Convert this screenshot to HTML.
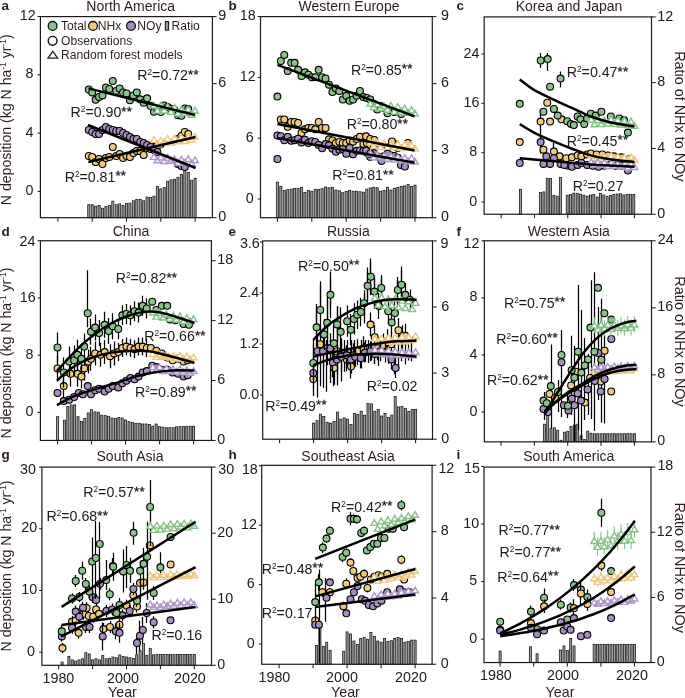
<!DOCTYPE html>
<html><head><meta charset="utf-8"><style>
html,body{margin:0;padding:0;background:#fff;}
svg{display:block;will-change:transform;font-family:"Liberation Sans",sans-serif;}
.tk{font-size:14.3px;fill:#1c1a1a;}
.ti{font-size:14.0px;fill:#2e1d1c;}
.lt{font-size:13.5px;font-weight:bold;fill:#2e1d1c;}
.r2{font-size:14.2px;fill:#1c1a1a;}
.sup{font-size:8.2px;}
.st{font-size:13.2px;stroke:#1c1a1a;stroke-width:0.3px;letter-spacing:0.3px;}
.yl{font-size:14.1px;fill:#2e1d1c;}
.yr{font-size:14.4px;fill:#2e1d1c;}
.yr2{font-size:14.3px;fill:#2e1d1c;}
.ysup{font-size:8.4px;}
.lg{font-size:12.1px;fill:#2e1d1c;}
</style></head>
<body><svg width="685" height="698" viewBox="0 0 685 698">
<clipPath id="cpa"><rect x="40.4" y="16.6" width="172.0" height="201.1"/></clipPath>
<g fill="#a2a2a2" stroke="#1a1a1a" stroke-width="0.8"><rect x="87.73" y="204.70" width="2.08" height="13.00"/><rect x="91.16" y="204.70" width="2.08" height="13.00"/><rect x="94.59" y="206.20" width="2.08" height="11.50"/><rect x="98.02" y="205.50" width="2.08" height="12.20"/><rect x="101.45" y="208.20" width="2.08" height="9.50"/><rect x="104.88" y="206.60" width="2.08" height="11.10"/><rect x="108.31" y="205.50" width="2.08" height="12.20"/><rect x="111.74" y="201.20" width="2.08" height="16.50"/><rect x="115.17" y="204.70" width="2.08" height="13.00"/><rect x="118.60" y="203.90" width="2.08" height="13.80"/><rect x="122.03" y="205.50" width="2.08" height="12.20"/><rect x="125.46" y="203.50" width="2.08" height="14.20"/><rect x="128.89" y="203.20" width="2.08" height="14.50"/><rect x="132.32" y="200.80" width="2.08" height="16.90"/><rect x="135.75" y="199.50" width="2.08" height="18.20"/><rect x="139.18" y="199.50" width="2.08" height="18.20"/><rect x="142.61" y="200.80" width="2.08" height="16.90"/><rect x="146.04" y="197.00" width="2.08" height="20.70"/><rect x="149.47" y="197.40" width="2.08" height="20.30"/><rect x="152.90" y="196.20" width="2.08" height="21.50"/><rect x="156.33" y="186.40" width="2.08" height="31.30"/><rect x="159.76" y="188.90" width="2.08" height="28.80"/><rect x="163.19" y="187.60" width="2.08" height="30.10"/><rect x="166.62" y="181.20" width="2.08" height="36.50"/><rect x="170.05" y="179.80" width="2.08" height="37.90"/><rect x="173.48" y="179.30" width="2.08" height="38.40"/><rect x="176.91" y="177.30" width="2.08" height="40.40"/><rect x="180.34" y="174.50" width="2.08" height="43.20"/><rect x="183.77" y="168.70" width="2.08" height="49.00"/><rect x="187.20" y="172.50" width="2.08" height="45.20"/><rect x="190.63" y="180.20" width="2.08" height="37.50"/><rect x="194.06" y="178.30" width="2.08" height="39.40"/></g>
<g fill="#f1c87c" stroke="#000" stroke-width="1.1"><circle cx="88.77" cy="156.00" r="3.45"/><circle cx="92.20" cy="157.00" r="3.45"/><circle cx="95.63" cy="162.00" r="3.45"/><circle cx="99.06" cy="159.00" r="3.45"/><circle cx="102.49" cy="164.00" r="3.45"/><circle cx="105.92" cy="158.00" r="3.45"/><circle cx="109.35" cy="157.00" r="3.45"/><circle cx="112.78" cy="147.00" r="3.45"/><circle cx="116.21" cy="156.00" r="3.45"/><circle cx="119.64" cy="154.00" r="3.45"/><circle cx="123.07" cy="158.00" r="3.45"/><circle cx="126.50" cy="156.00" r="3.45"/><circle cx="129.93" cy="157.00" r="3.45"/><circle cx="133.36" cy="153.00" r="3.45"/><circle cx="136.79" cy="151.00" r="3.45"/><circle cx="140.22" cy="151.00" r="3.45"/><circle cx="143.65" cy="155.00" r="3.45"/><circle cx="147.08" cy="148.00" r="3.45"/><circle cx="150.51" cy="149.00" r="3.45"/><circle cx="153.94" cy="147.00" r="3.45"/><circle cx="157.37" cy="146.00" r="3.45"/><circle cx="160.80" cy="144.00" r="3.45"/><circle cx="177.95" cy="139.00" r="3.45"/><circle cx="181.38" cy="136.00" r="3.45"/><circle cx="184.81" cy="132.00" r="3.45"/><circle cx="188.24" cy="134.00" r="3.45"/></g>
<path d="M153.94 136.66L157.24 142.36H150.64ZM157.37 140.99L160.67 146.69H154.07ZM160.80 137.29L164.10 142.99H157.50ZM164.23 139.08L167.53 144.78H160.93ZM167.66 135.50L170.96 141.20H164.36ZM171.09 139.35L174.39 145.05H167.79ZM174.52 135.08L177.82 140.78H171.22ZM177.95 138.07L181.25 143.77H174.65ZM181.38 134.50L184.68 140.20H178.08ZM184.81 137.83L188.11 143.53H181.51ZM188.24 133.87L191.54 139.57H184.94ZM191.67 136.52L194.97 142.22H188.37ZM195.10 133.42L198.40 139.12H191.80Z" stroke="#ecc67c" stroke-width="1.4" fill="#fff" stroke-linejoin="miter"/>
<g fill="#a58cc1" stroke="#000" stroke-width="1.1"><circle cx="88.77" cy="130.00" r="3.45"/><circle cx="92.20" cy="132.00" r="3.45"/><circle cx="95.63" cy="134.00" r="3.45"/><circle cx="99.06" cy="134.00" r="3.45"/><circle cx="102.49" cy="130.00" r="3.45"/><circle cx="105.92" cy="127.00" r="3.45"/><circle cx="109.35" cy="129.00" r="3.45"/><circle cx="112.78" cy="130.00" r="3.45"/><circle cx="116.21" cy="131.00" r="3.45"/><circle cx="119.64" cy="131.00" r="3.45"/><circle cx="123.07" cy="133.00" r="3.45"/><circle cx="126.50" cy="135.00" r="3.45"/><circle cx="129.93" cy="137.00" r="3.45"/><circle cx="133.36" cy="139.00" r="3.45"/><circle cx="136.79" cy="139.00" r="3.45"/><circle cx="140.22" cy="142.00" r="3.45"/><circle cx="143.65" cy="143.00" r="3.45"/><circle cx="147.08" cy="145.00" r="3.45"/><circle cx="150.51" cy="147.00" r="3.45"/><circle cx="153.94" cy="150.00" r="3.45"/><circle cx="157.37" cy="152.00" r="3.45"/><circle cx="177.95" cy="164.00" r="3.45"/><circle cx="181.38" cy="166.00" r="3.45"/><circle cx="184.81" cy="167.00" r="3.45"/></g>
<path d="M153.94 153.70L157.24 159.40H150.64ZM157.37 157.08L160.67 162.78H154.07ZM160.80 154.17L164.10 159.87H157.50ZM164.23 157.83L167.53 163.53H160.93ZM167.66 154.47L170.96 160.17H164.36ZM171.09 157.72L174.39 163.42H167.79ZM174.52 156.02L177.82 161.72H171.22ZM177.95 159.50L181.25 165.20H174.65ZM181.38 156.33L184.68 162.03H178.08ZM184.81 159.30L188.11 165.00H181.51ZM188.24 155.94L191.54 161.64H184.94ZM191.67 160.30L194.97 166.00H188.37ZM195.10 156.84L198.40 162.54H191.80Z" stroke="#ad96cb" stroke-width="1.4" fill="#fff" stroke-linejoin="miter"/>
<g fill="#88c38a" stroke="#000" stroke-width="1.1"><circle cx="88.77" cy="89.40" r="3.45"/><circle cx="92.20" cy="92.40" r="3.45"/><circle cx="95.63" cy="99.80" r="3.45"/><circle cx="99.06" cy="96.90" r="3.45"/><circle cx="102.49" cy="95.40" r="3.45"/><circle cx="105.92" cy="87.40" r="3.45"/><circle cx="109.35" cy="88.90" r="3.45"/><circle cx="112.78" cy="81.00" r="3.45"/><circle cx="116.21" cy="90.90" r="3.45"/><circle cx="119.64" cy="88.40" r="3.45"/><circle cx="123.07" cy="92.40" r="3.45"/><circle cx="126.50" cy="93.40" r="3.45"/><circle cx="129.93" cy="100.30" r="3.45"/><circle cx="133.36" cy="95.40" r="3.45"/><circle cx="136.79" cy="92.40" r="3.45"/><circle cx="140.22" cy="99.30" r="3.45"/><circle cx="143.65" cy="102.80" r="3.45"/><circle cx="147.08" cy="98.30" r="3.45"/><circle cx="150.51" cy="105.80" r="3.45"/><circle cx="153.94" cy="111.80" r="3.45"/><circle cx="157.37" cy="110.00" r="3.45"/><circle cx="160.80" cy="112.00" r="3.45"/><circle cx="164.23" cy="105.40" r="3.45"/><circle cx="167.66" cy="107.00" r="3.45"/><circle cx="171.09" cy="109.00" r="3.45"/><circle cx="174.52" cy="110.00" r="3.45"/><circle cx="177.95" cy="115.30" r="3.45"/><circle cx="181.38" cy="115.80" r="3.45"/><circle cx="184.81" cy="108.50" r="3.45"/><circle cx="188.24" cy="109.00" r="3.45"/></g>
<path d="M153.94 102.46L157.24 108.16H150.64ZM157.37 107.41L160.67 113.11H154.07ZM160.80 102.25L164.10 107.95H157.50ZM164.23 107.27L167.53 112.97H160.93ZM167.66 103.77L170.96 109.47H164.36ZM171.09 108.64L174.39 114.34H167.79ZM174.52 104.47L177.82 110.17H171.22ZM177.95 110.29L181.25 115.99H174.65ZM181.38 106.54L184.68 112.24H178.08ZM184.81 109.83L188.11 115.53H181.51ZM188.24 106.12L191.54 111.82H184.94ZM191.67 111.61L194.97 117.31H188.37ZM195.10 107.26L198.40 112.96H191.80Z" stroke="#84c186" stroke-width="1.4" fill="#fff" stroke-linejoin="miter"/>
<path d="M88.40 88.40L195.00 115.00" fill="none" stroke="#000" stroke-width="2.5"/>
<path d="M88.00 125.00L195.60 168.00" fill="none" stroke="#000" stroke-width="2.5"/>
<path d="M88.40 162.00L195.60 137.00" fill="none" stroke="#000" stroke-width="2.5"/>
<rect x="40.4" y="16.6" width="172.00" height="201.10" fill="none" stroke="#1a1a1a" stroke-width="1.2"/>
<line x1="37.6" y1="191.40" x2="40.4" y2="191.40" stroke="#1a1a1a" stroke-width="1.05"/>
<text x="33.50" y="195.00" text-anchor="end" class="tk">0</text>
<line x1="37.6" y1="133.10" x2="40.4" y2="133.10" stroke="#1a1a1a" stroke-width="1.05"/>
<text x="33.50" y="136.70" text-anchor="end" class="tk">4</text>
<line x1="37.6" y1="74.80" x2="40.4" y2="74.80" stroke="#1a1a1a" stroke-width="1.05"/>
<text x="33.50" y="78.40" text-anchor="end" class="tk">8</text>
<line x1="37.6" y1="16.50" x2="40.4" y2="16.50" stroke="#1a1a1a" stroke-width="1.05"/>
<text x="35.60" y="20.10" text-anchor="end" class="tk">12</text>
<line x1="212.4" y1="217.70" x2="216.6" y2="217.70" stroke="#1a1a1a" stroke-width="1.05"/>
<text x="218.20" y="221.30" class="tk">0</text>
<line x1="212.4" y1="150.67" x2="216.6" y2="150.67" stroke="#1a1a1a" stroke-width="1.05"/>
<text x="218.20" y="154.27" class="tk">3</text>
<line x1="212.4" y1="83.63" x2="216.6" y2="83.63" stroke="#1a1a1a" stroke-width="1.05"/>
<text x="218.20" y="87.23" class="tk">6</text>
<line x1="212.4" y1="16.60" x2="216.6" y2="16.60" stroke="#1a1a1a" stroke-width="1.05"/>
<text x="218.20" y="20.20" class="tk">9</text>
<line x1="57.90" y1="217.7" x2="57.90" y2="221.7" stroke="#1a1a1a" stroke-width="1.05"/>
<line x1="92.20" y1="217.7" x2="92.20" y2="221.7" stroke="#1a1a1a" stroke-width="1.05"/>
<line x1="126.50" y1="217.7" x2="126.50" y2="221.7" stroke="#1a1a1a" stroke-width="1.05"/>
<line x1="160.80" y1="217.7" x2="160.80" y2="221.7" stroke="#1a1a1a" stroke-width="1.05"/>
<line x1="195.10" y1="217.7" x2="195.10" y2="221.7" stroke="#1a1a1a" stroke-width="1.05"/>
<text x="130.7" y="11.4" text-anchor="middle" class="ti">North America</text>
<text x="1.5" y="10" class="lt">a</text>
<text x="137.30" y="80.25" class="r2">R<tspan class="sup" dy="-4.9">2</tspan><tspan dy="4.9">=0.72</tspan><tspan class="st" dy="-1.6">**</tspan></text>
<text x="70.60" y="117.1" class="r2">R<tspan class="sup" dy="-4.9">2</tspan><tspan dy="4.9">=0.90</tspan><tspan class="st" dy="-1.6">**</tspan></text>
<text x="64.70" y="181.7" class="r2">R<tspan class="sup" dy="-4.9">2</tspan><tspan dy="4.9">=0.81</tspan><tspan class="st" dy="-1.6">**</tspan></text>
<clipPath id="cpb"><rect x="260.5" y="16.6" width="171.8" height="201.1"/></clipPath>
<g fill="#a2a2a2" stroke="#1a1a1a" stroke-width="0.8"><rect x="276.35" y="182.15" width="2.09" height="35.55"/><rect x="279.79" y="186.36" width="2.09" height="31.34"/><rect x="283.23" y="190.33" width="2.09" height="27.37"/><rect x="286.67" y="189.63" width="2.09" height="28.07"/><rect x="290.11" y="189.16" width="2.09" height="28.54"/><rect x="293.55" y="188.46" width="2.09" height="29.24"/><rect x="296.99" y="188.46" width="2.09" height="29.24"/><rect x="300.43" y="187.29" width="2.09" height="30.41"/><rect x="303.87" y="192.43" width="2.09" height="25.27"/><rect x="307.31" y="190.33" width="2.09" height="27.37"/><rect x="310.75" y="191.26" width="2.09" height="26.44"/><rect x="314.19" y="189.39" width="2.09" height="28.31"/><rect x="317.63" y="189.39" width="2.09" height="28.31"/><rect x="321.07" y="188.69" width="2.09" height="29.01"/><rect x="324.51" y="187.06" width="2.09" height="30.64"/><rect x="327.95" y="187.76" width="2.09" height="29.94"/><rect x="331.39" y="187.29" width="2.09" height="30.41"/><rect x="334.83" y="190.09" width="2.09" height="27.61"/><rect x="338.27" y="190.79" width="2.09" height="26.91"/><rect x="341.71" y="192.66" width="2.09" height="25.04"/><rect x="345.15" y="191.50" width="2.09" height="26.20"/><rect x="348.59" y="190.33" width="2.09" height="27.37"/><rect x="352.03" y="191.26" width="2.09" height="26.44"/><rect x="355.47" y="191.26" width="2.09" height="26.44"/><rect x="358.91" y="191.73" width="2.09" height="25.97"/><rect x="362.35" y="192.20" width="2.09" height="25.50"/><rect x="365.79" y="189.16" width="2.09" height="28.54"/><rect x="369.23" y="187.99" width="2.09" height="29.71"/><rect x="372.67" y="187.29" width="2.09" height="30.41"/><rect x="376.11" y="187.76" width="2.09" height="29.94"/><rect x="379.55" y="191.26" width="2.09" height="26.44"/><rect x="382.99" y="190.56" width="2.09" height="27.14"/><rect x="386.43" y="187.29" width="2.09" height="30.41"/><rect x="389.87" y="190.09" width="2.09" height="27.61"/><rect x="393.31" y="188.22" width="2.09" height="29.48"/><rect x="396.75" y="187.29" width="2.09" height="30.41"/><rect x="400.19" y="186.36" width="2.09" height="31.34"/><rect x="403.63" y="185.89" width="2.09" height="31.81"/><rect x="407.07" y="184.49" width="2.09" height="33.21"/><rect x="410.51" y="186.36" width="2.09" height="31.34"/><rect x="413.95" y="185.19" width="2.09" height="32.51"/></g>
<g fill="#f1c87c" stroke="#000" stroke-width="1.1"><circle cx="280.84" cy="119.40" r="3.45"/><circle cx="284.28" cy="119.40" r="3.45"/><circle cx="287.72" cy="126.80" r="3.45"/><circle cx="291.16" cy="121.90" r="3.45"/><circle cx="294.60" cy="121.90" r="3.45"/><circle cx="298.04" cy="123.00" r="3.45"/><circle cx="301.48" cy="133.00" r="3.45"/><circle cx="304.92" cy="129.30" r="3.45"/><circle cx="308.36" cy="128.00" r="3.45"/><circle cx="311.80" cy="128.00" r="3.45"/><circle cx="315.24" cy="129.30" r="3.45"/><circle cx="318.68" cy="121.90" r="3.45"/><circle cx="322.12" cy="128.00" r="3.45"/><circle cx="325.56" cy="128.00" r="3.45"/><circle cx="329.00" cy="139.30" r="3.45"/><circle cx="332.44" cy="140.50" r="3.45"/><circle cx="335.88" cy="143.00" r="3.45"/><circle cx="339.32" cy="141.70" r="3.45"/><circle cx="342.76" cy="143.00" r="3.45"/><circle cx="346.20" cy="143.00" r="3.45"/><circle cx="349.64" cy="140.50" r="3.45"/><circle cx="353.08" cy="141.70" r="3.45"/><circle cx="356.52" cy="139.00" r="3.45"/><circle cx="359.96" cy="136.80" r="3.45"/><circle cx="363.40" cy="144.00" r="3.45"/><circle cx="366.84" cy="143.00" r="3.45"/><circle cx="370.28" cy="145.00" r="3.45"/><circle cx="373.72" cy="146.00" r="3.45"/><circle cx="387.48" cy="147.00" r="3.45"/><circle cx="394.36" cy="144.00" r="3.45"/><circle cx="397.80" cy="148.00" r="3.45"/><circle cx="366.10" cy="136.30" r="3.45"/><circle cx="370.20" cy="138.90" r="3.45"/><circle cx="374.30" cy="139.90" r="3.45"/><circle cx="408.00" cy="143.00" r="3.45"/><circle cx="392.00" cy="141.50" r="3.45"/></g>
<path d="M370.28 139.30L373.58 145.00H366.98ZM373.72 143.09L377.02 148.79H370.42ZM377.16 139.53L380.46 145.23H373.86ZM380.60 143.82L383.90 149.52H377.30ZM384.04 140.07L387.34 145.77H380.74ZM387.48 144.25L390.78 149.95H384.18ZM390.92 141.47L394.22 147.17H387.62ZM394.36 144.11L397.66 149.81H391.06ZM397.80 140.72L401.10 146.42H394.50ZM401.24 144.81L404.54 150.51H397.94ZM404.68 141.24L407.98 146.94H401.38ZM408.12 144.57L411.42 150.27H404.82ZM411.56 142.27L414.86 147.97H408.26ZM415.00 145.21L418.30 150.91H411.70Z" stroke="#ecc67c" stroke-width="1.4" fill="#fff" stroke-linejoin="miter"/>
<g fill="#a58cc1" stroke="#000" stroke-width="1.1"><circle cx="277.40" cy="135.50" r="3.45"/><circle cx="280.84" cy="136.18" r="3.45"/><circle cx="284.28" cy="140.30" r="3.45"/><circle cx="287.72" cy="136.87" r="3.45"/><circle cx="291.16" cy="140.73" r="3.45"/><circle cx="294.60" cy="140.16" r="3.45"/><circle cx="298.04" cy="138.63" r="3.45"/><circle cx="301.48" cy="142.39" r="3.45"/><circle cx="304.92" cy="139.72" r="3.45"/><circle cx="308.36" cy="143.12" r="3.45"/><circle cx="311.80" cy="141.19" r="3.45"/><circle cx="315.24" cy="141.95" r="3.45"/><circle cx="318.68" cy="144.91" r="3.45"/><circle cx="322.12" cy="148.35" r="3.45"/><circle cx="325.56" cy="144.05" r="3.45"/><circle cx="329.00" cy="145.36" r="3.45"/><circle cx="332.44" cy="148.81" r="3.45"/><circle cx="335.88" cy="151.67" r="3.45"/><circle cx="339.32" cy="149.70" r="3.45"/><circle cx="342.76" cy="149.06" r="3.45"/><circle cx="346.20" cy="153.73" r="3.45"/><circle cx="349.64" cy="147.85" r="3.45"/><circle cx="353.08" cy="154.15" r="3.45"/><circle cx="356.52" cy="150.79" r="3.45"/><circle cx="359.96" cy="150.39" r="3.45"/><circle cx="363.40" cy="150.82" r="3.45"/><circle cx="366.84" cy="152.78" r="3.45"/><circle cx="370.28" cy="156.95" r="3.45"/><circle cx="373.72" cy="153.13" r="3.45"/><circle cx="377.16" cy="156.55" r="3.45"/><circle cx="380.60" cy="157.57" r="3.45"/><circle cx="384.04" cy="156.33" r="3.45"/><circle cx="387.48" cy="158.17" r="3.45"/><circle cx="390.92" cy="155.40" r="3.45"/><circle cx="394.36" cy="156.00" r="3.45"/><circle cx="397.80" cy="157.64" r="3.45"/><circle cx="401.24" cy="161.58" r="3.45"/><circle cx="277.40" cy="159.00" r="3.45"/><circle cx="366.10" cy="150.60" r="3.45"/><circle cx="370.20" cy="153.70" r="3.45"/><circle cx="381.50" cy="160.90" r="3.45"/><circle cx="387.60" cy="153.70" r="3.45"/><circle cx="400.90" cy="164.90" r="3.45"/><circle cx="404.90" cy="166.50" r="3.45"/></g>
<path d="M370.28 150.25L373.58 155.95H366.98ZM373.72 154.17L377.02 159.87H370.42ZM377.16 151.39L380.46 157.09H373.86ZM380.60 154.27L383.90 159.97H377.30ZM384.04 152.74L387.34 158.44H380.74ZM387.48 155.52L390.78 161.22H384.18ZM390.92 152.94L394.22 158.64H387.62ZM394.36 156.40L397.66 162.10H391.06ZM397.80 153.83L401.10 159.53H394.50ZM401.24 157.19L404.54 162.89H397.94ZM404.68 154.72L407.98 160.42H401.38ZM408.12 157.99L411.42 163.69H404.82ZM411.56 154.94L414.86 160.64H408.26ZM415.00 158.30L418.30 164.00H411.70Z" stroke="#ad96cb" stroke-width="1.4" fill="#fff" stroke-linejoin="miter"/>
<g fill="#88c38a" stroke="#000" stroke-width="1.1"><circle cx="277.40" cy="96.60" r="3.45"/><circle cx="280.84" cy="61.00" r="3.45"/><circle cx="284.28" cy="54.90" r="3.45"/><circle cx="287.72" cy="71.00" r="3.45"/><circle cx="291.16" cy="62.80" r="3.45"/><circle cx="294.60" cy="62.80" r="3.45"/><circle cx="298.04" cy="69.80" r="3.45"/><circle cx="301.48" cy="76.00" r="3.45"/><circle cx="304.92" cy="72.30" r="3.45"/><circle cx="308.36" cy="74.70" r="3.45"/><circle cx="311.80" cy="77.20" r="3.45"/><circle cx="315.24" cy="77.20" r="3.45"/><circle cx="318.68" cy="69.80" r="3.45"/><circle cx="322.12" cy="77.20" r="3.45"/><circle cx="325.56" cy="78.50" r="3.45"/><circle cx="329.00" cy="84.70" r="3.45"/><circle cx="332.44" cy="92.00" r="3.45"/><circle cx="335.88" cy="88.40" r="3.45"/><circle cx="339.32" cy="91.00" r="3.45"/><circle cx="342.76" cy="99.50" r="3.45"/><circle cx="346.20" cy="95.80" r="3.45"/><circle cx="349.64" cy="100.80" r="3.45"/><circle cx="353.08" cy="99.50" r="3.45"/><circle cx="356.52" cy="95.80" r="3.45"/><circle cx="359.96" cy="91.00" r="3.45"/><circle cx="363.40" cy="97.00" r="3.45"/><circle cx="366.84" cy="98.00" r="3.45"/><circle cx="370.28" cy="99.50" r="3.45"/><circle cx="373.72" cy="104.00" r="3.45"/><circle cx="377.16" cy="109.50" r="3.45"/><circle cx="380.60" cy="106.00" r="3.45"/><circle cx="384.04" cy="108.00" r="3.45"/><circle cx="387.48" cy="113.20" r="3.45"/><circle cx="390.92" cy="110.00" r="3.45"/><circle cx="394.36" cy="112.00" r="3.45"/><circle cx="397.80" cy="110.70" r="3.45"/><circle cx="401.24" cy="114.00" r="3.45"/></g>
<path d="M370.28 100.38L373.58 106.08H366.98ZM373.72 103.92L377.02 109.62H370.42ZM377.16 101.16L380.46 106.86H373.86ZM380.60 105.09L383.90 110.79H377.30ZM384.04 102.83L387.34 108.53H380.74ZM387.48 106.62L390.78 112.32H384.18ZM390.92 102.38L394.22 108.08H387.62ZM394.36 108.41L397.66 114.11H391.06ZM397.80 103.73L401.10 109.43H394.50ZM401.24 108.45L404.54 114.15H397.94ZM404.68 105.22L407.98 110.92H401.38ZM408.12 109.62L411.42 115.32H404.82ZM411.56 106.95L414.86 112.65H408.26ZM415.00 110.39L418.30 116.09H411.70Z" stroke="#84c186" stroke-width="1.4" fill="#fff" stroke-linejoin="miter"/>
<path d="M277.40 64.80L414.60 116.40" fill="none" stroke="#000" stroke-width="2.5"/>
<path d="M277.40 123.90L414.60 150.40" fill="none" stroke="#000" stroke-width="2.5"/>
<path d="M277.40 138.00L414.60 162.80" fill="none" stroke="#000" stroke-width="2.5"/>
<rect x="260.5" y="16.6" width="171.80" height="201.10" fill="none" stroke="#1a1a1a" stroke-width="1.2"/>
<line x1="257.7" y1="199.00" x2="260.5" y2="199.00" stroke="#1a1a1a" stroke-width="1.05"/>
<text x="253.60" y="202.60" text-anchor="end" class="tk">0</text>
<line x1="257.7" y1="138.17" x2="260.5" y2="138.17" stroke="#1a1a1a" stroke-width="1.05"/>
<text x="253.60" y="141.77" text-anchor="end" class="tk">6</text>
<line x1="257.7" y1="77.33" x2="260.5" y2="77.33" stroke="#1a1a1a" stroke-width="1.05"/>
<text x="255.70" y="80.93" text-anchor="end" class="tk">12</text>
<line x1="257.7" y1="16.50" x2="260.5" y2="16.50" stroke="#1a1a1a" stroke-width="1.05"/>
<text x="255.70" y="20.10" text-anchor="end" class="tk">18</text>
<line x1="432.3" y1="217.70" x2="436.5" y2="217.70" stroke="#1a1a1a" stroke-width="1.05"/>
<text x="441.00" y="221.30" class="tk">0</text>
<line x1="432.3" y1="150.67" x2="436.5" y2="150.67" stroke="#1a1a1a" stroke-width="1.05"/>
<text x="441.00" y="154.27" class="tk">3</text>
<line x1="432.3" y1="83.63" x2="436.5" y2="83.63" stroke="#1a1a1a" stroke-width="1.05"/>
<text x="441.00" y="87.23" class="tk">6</text>
<line x1="432.3" y1="16.60" x2="436.5" y2="16.60" stroke="#1a1a1a" stroke-width="1.05"/>
<text x="441.00" y="20.20" class="tk">9</text>
<line x1="277.40" y1="217.7" x2="277.40" y2="221.7" stroke="#1a1a1a" stroke-width="1.05"/>
<line x1="311.80" y1="217.7" x2="311.80" y2="221.7" stroke="#1a1a1a" stroke-width="1.05"/>
<line x1="346.20" y1="217.7" x2="346.20" y2="221.7" stroke="#1a1a1a" stroke-width="1.05"/>
<line x1="380.60" y1="217.7" x2="380.60" y2="221.7" stroke="#1a1a1a" stroke-width="1.05"/>
<line x1="415.00" y1="217.7" x2="415.00" y2="221.7" stroke="#1a1a1a" stroke-width="1.05"/>
<text x="349" y="11.4" text-anchor="middle" class="ti">Western Europe</text>
<text x="228.5" y="10" class="lt">b</text>
<text x="351.00" y="75.0" class="r2">R<tspan class="sup" dy="-4.9">2</tspan><tspan dy="4.9">=0.85</tspan><tspan class="st" dy="-1.6">**</tspan></text>
<text x="346.65" y="129.3" class="r2">R<tspan class="sup" dy="-4.9">2</tspan><tspan dy="4.9">=0.80</tspan><tspan class="st" dy="-1.6">**</tspan></text>
<text x="332.30" y="180.1" class="r2">R<tspan class="sup" dy="-4.9">2</tspan><tspan dy="4.9">=0.81</tspan><tspan class="st" dy="-1.6">**</tspan></text>
<clipPath id="cpc"><rect x="484.15" y="16.9" width="167.35000000000002" height="197.35"/></clipPath>
<g fill="#a2a2a2" stroke="#1a1a1a" stroke-width="0.8"><rect x="519.59" y="189.40" width="1.98" height="24.85"/><rect x="539.57" y="192.50" width="1.98" height="21.75"/><rect x="542.90" y="191.90" width="1.98" height="22.35"/><rect x="546.23" y="178.20" width="1.98" height="36.05"/><rect x="549.56" y="178.40" width="1.98" height="35.85"/><rect x="552.89" y="195.40" width="1.98" height="18.85"/><rect x="556.22" y="196.20" width="1.98" height="18.05"/><rect x="559.55" y="177.40" width="1.98" height="36.85"/><rect x="566.21" y="195.20" width="1.98" height="19.05"/><rect x="569.54" y="194.50" width="1.98" height="19.75"/><rect x="572.87" y="193.10" width="1.98" height="21.15"/><rect x="576.20" y="193.30" width="1.98" height="20.95"/><rect x="579.53" y="194.10" width="1.98" height="20.15"/><rect x="582.86" y="195.20" width="1.98" height="19.05"/><rect x="586.19" y="196.20" width="1.98" height="18.05"/><rect x="589.52" y="195.00" width="1.98" height="19.25"/><rect x="592.85" y="194.50" width="1.98" height="19.75"/><rect x="596.18" y="197.00" width="1.98" height="17.25"/><rect x="599.51" y="193.50" width="1.98" height="20.75"/><rect x="602.84" y="195.00" width="1.98" height="19.25"/><rect x="606.17" y="196.60" width="1.98" height="17.65"/><rect x="609.50" y="195.40" width="1.98" height="18.85"/><rect x="612.83" y="194.50" width="1.98" height="19.75"/><rect x="616.16" y="194.10" width="1.98" height="20.15"/><rect x="619.49" y="193.70" width="1.98" height="20.55"/><rect x="622.82" y="195.00" width="1.98" height="19.25"/><rect x="626.15" y="194.50" width="1.98" height="19.75"/><rect x="629.48" y="194.30" width="1.98" height="19.95"/><rect x="632.81" y="194.50" width="1.98" height="19.75"/></g>
<path d="M540.50 108.90V153.50M553.50 143.00V151.00" stroke="#000" stroke-width="1.25" fill="none" clip-path="url(#cpc)"/>
<g fill="#f1c87c" stroke="#000" stroke-width="1.1"><circle cx="519.74" cy="142.11" r="3.45"/><circle cx="547.26" cy="102.64" r="3.45"/><circle cx="540.62" cy="121.61" r="3.45"/><circle cx="550.10" cy="121.61" r="3.45"/><circle cx="543.46" cy="149.70" r="3.45"/><circle cx="553.90" cy="151.59" r="3.45"/><circle cx="561.49" cy="119.34" r="3.45"/><circle cx="559.59" cy="156.34" r="3.45"/><circle cx="566.23" cy="158.24" r="3.45"/><circle cx="571.93" cy="157.29" r="3.45"/><circle cx="577.62" cy="155.39" r="3.45"/><circle cx="581.41" cy="156.34" r="3.45"/><circle cx="587.11" cy="154.44" r="3.45"/><circle cx="590.90" cy="153.49" r="3.45"/><circle cx="596.59" cy="154.44" r="3.45"/><circle cx="602.29" cy="154.44" r="3.45"/><circle cx="607.98" cy="155.39" r="3.45"/><circle cx="613.67" cy="156.34" r="3.45"/><circle cx="621.26" cy="157.29" r="3.45"/><circle cx="628.85" cy="159.18" r="3.45"/></g>
<path d="M591.11 153.78V156.78M594.44 156.28V159.28M597.77 154.44V157.44M601.10 157.12V160.12M604.43 154.89V157.89M607.76 157.03V160.03M611.09 154.23V157.23M614.42 156.88V159.88M617.75 154.91V157.91M621.08 157.77V160.77M624.41 155.77V158.77M627.74 157.82V160.82M631.07 155.37V158.37M634.40 158.21V161.21" stroke="#ecc67c" stroke-width="1.1" fill="none"/>
<path d="M591.11 152.28L594.41 157.98H587.81ZM594.44 154.78L597.74 160.48H591.14ZM597.77 152.94L601.07 158.64H594.47ZM601.10 155.62L604.40 161.32H597.80ZM604.43 153.39L607.73 159.09H601.13ZM607.76 155.53L611.06 161.23H604.46ZM611.09 152.73L614.39 158.43H607.79ZM614.42 155.38L617.72 161.08H611.12ZM617.75 153.41L621.05 159.11H614.45ZM621.08 156.27L624.38 161.97H617.78ZM624.41 154.27L627.71 159.97H621.11ZM627.74 156.32L631.04 162.02H624.44ZM631.07 153.87L634.37 159.57H627.77ZM634.40 156.71L637.70 162.41H631.10Z" stroke="#ecc67c" stroke-width="1.4" fill="#fff" stroke-linejoin="miter"/>
<g fill="#a58cc1" stroke="#000" stroke-width="1.1"><circle cx="519.74" cy="162.98" r="3.45"/><circle cx="540.62" cy="142.11" r="3.45"/><circle cx="546.31" cy="156.34" r="3.45"/><circle cx="550.10" cy="163.93" r="3.45"/><circle cx="553.90" cy="158.24" r="3.45"/><circle cx="560.54" cy="163.93" r="3.45"/><circle cx="568.13" cy="165.83" r="3.45"/><circle cx="571.93" cy="166.77" r="3.45"/><circle cx="577.62" cy="164.88" r="3.45"/><circle cx="581.41" cy="162.98" r="3.45"/><circle cx="587.11" cy="164.88" r="3.45"/><circle cx="592.80" cy="165.83" r="3.45"/><circle cx="598.49" cy="166.77" r="3.45"/><circle cx="604.18" cy="165.83" r="3.45"/><circle cx="609.88" cy="164.88" r="3.45"/><circle cx="615.57" cy="165.83" r="3.45"/><circle cx="621.26" cy="165.83" r="3.45"/><circle cx="627.90" cy="170.57" r="3.45"/><circle cx="543.46" cy="163.93" r="3.45"/><circle cx="564.34" cy="164.88" r="3.45"/></g>
<path d="M591.11 160.16V163.16M594.44 162.91V165.91M597.77 160.62V163.62M601.10 163.13V166.13M604.43 160.82V163.82M607.76 164.26V167.26M611.09 161.46V164.46M614.42 164.01V167.01M617.75 162.06V165.06M621.08 164.65V167.65M624.41 162.82V165.82M627.74 165.79V168.79M631.07 162.47V165.47M634.40 165.27V168.27" stroke="#ad96cb" stroke-width="1.1" fill="none"/>
<path d="M591.11 158.66L594.41 164.36H587.81ZM594.44 161.41L597.74 167.11H591.14ZM597.77 159.12L601.07 164.82H594.47ZM601.10 161.63L604.40 167.33H597.80ZM604.43 159.32L607.73 165.02H601.13ZM607.76 162.76L611.06 168.46H604.46ZM611.09 159.96L614.39 165.66H607.79ZM614.42 162.51L617.72 168.21H611.12ZM617.75 160.56L621.05 166.26H614.45ZM621.08 163.15L624.38 168.85H617.78ZM624.41 161.32L627.71 167.02H621.11ZM627.74 164.29L631.04 169.99H624.44ZM631.07 160.97L634.37 166.67H627.77ZM634.40 163.77L637.70 169.47H631.10Z" stroke="#ad96cb" stroke-width="1.4" fill="#fff" stroke-linejoin="miter"/>
<path d="M540.50 53.00V68.00M547.50 53.11V71.11M560.50 71.54V87.54" stroke="#000" stroke-width="1.25" fill="none" clip-path="url(#cpc)"/>
<g fill="#88c38a" stroke="#000" stroke-width="1.1"><circle cx="519.74" cy="103.78" r="3.45"/><circle cx="550.10" cy="86.70" r="3.45"/><circle cx="543.46" cy="111.75" r="3.45"/><circle cx="553.90" cy="108.90" r="3.45"/><circle cx="557.69" cy="115.54" r="3.45"/><circle cx="567.18" cy="121.23" r="3.45"/><circle cx="570.98" cy="124.08" r="3.45"/><circle cx="573.82" cy="125.03" r="3.45"/><circle cx="577.62" cy="116.49" r="3.45"/><circle cx="580.46" cy="119.34" r="3.45"/><circle cx="584.26" cy="124.08" r="3.45"/><circle cx="587.11" cy="118.39" r="3.45"/><circle cx="590.90" cy="113.64" r="3.45"/><circle cx="595.65" cy="115.54" r="3.45"/><circle cx="601.34" cy="111.75" r="3.45"/><circle cx="610.83" cy="116.49" r="3.45"/><circle cx="619.36" cy="118.39" r="3.45"/><circle cx="624.11" cy="120.28" r="3.45"/><circle cx="627.90" cy="132.62" r="3.45"/><circle cx="540.70" cy="60.50" r="3.45"/><circle cx="547.69" cy="59.11" r="3.45"/><circle cx="560.54" cy="78.54" r="3.45"/></g>
<path d="M591.11 115.89V122.89M594.44 120.59V127.59M597.77 116.38V123.38M601.10 120.43V127.43M604.43 116.76V123.76M607.76 119.91V126.91M611.09 115.42V122.42M614.42 120.15V127.15M617.75 116.38V123.38M621.08 120.91V127.91M624.41 117.02V124.02M627.74 121.28V128.28M631.07 117.80V124.80M634.40 122.19V129.19" stroke="#84c186" stroke-width="1.1" fill="none"/>
<path d="M591.11 116.39L594.41 122.09H587.81ZM594.44 121.09L597.74 126.79H591.14ZM597.77 116.88L601.07 122.58H594.47ZM601.10 120.93L604.40 126.63H597.80ZM604.43 117.26L607.73 122.96H601.13ZM607.76 120.41L611.06 126.11H604.46ZM611.09 115.92L614.39 121.62H607.79ZM614.42 120.65L617.72 126.35H611.12ZM617.75 116.88L621.05 122.58H614.45ZM621.08 121.41L624.38 127.11H617.78ZM624.41 117.52L627.71 123.22H621.11ZM627.74 121.78L631.04 127.48H624.44ZM631.07 118.30L634.37 124.00H627.77ZM634.40 122.69L637.70 128.39H631.10Z" stroke="#84c186" stroke-width="1.4" fill="#fff" stroke-linejoin="miter"/>
<path d="M519.74 79.49C522.12 81.23 528.44 86.60 533.98 89.92C539.51 93.24 546.63 96.41 552.95 99.41C559.28 102.42 565.60 105.10 571.93 107.95C578.25 110.80 584.58 114.12 590.90 116.49C597.23 118.86 602.60 120.51 609.88 122.18C617.15 123.86 630.43 125.82 634.54 126.55" fill="none" stroke="#000" stroke-width="2.5"/>
<path d="M519.74 124.08C522.12 125.50 528.44 129.77 533.98 132.62C539.51 135.46 546.63 138.47 552.95 141.16C559.28 143.85 565.60 146.38 571.93 148.75C578.25 151.12 584.58 153.65 590.90 155.39C597.23 157.13 602.60 158.08 609.88 159.18C617.15 160.29 630.43 161.56 634.54 162.03" fill="none" stroke="#000" stroke-width="2.5"/>
<path d="M519.74 158.24C525.28 158.71 541.09 160.04 552.95 161.08C564.81 162.13 577.30 163.55 590.90 164.50C604.50 165.45 627.27 166.39 634.54 166.77" fill="none" stroke="#000" stroke-width="2.5"/>
<rect x="484.15" y="16.9" width="167.35" height="197.35" fill="none" stroke="#1a1a1a" stroke-width="1.2"/>
<line x1="481.34999999999997" y1="202.00" x2="484.15" y2="202.00" stroke="#1a1a1a" stroke-width="1.05"/>
<text x="477.25" y="205.60" text-anchor="end" class="tk">0</text>
<line x1="481.34999999999997" y1="152.67" x2="484.15" y2="152.67" stroke="#1a1a1a" stroke-width="1.05"/>
<text x="477.25" y="156.27" text-anchor="end" class="tk">8</text>
<line x1="481.34999999999997" y1="103.33" x2="484.15" y2="103.33" stroke="#1a1a1a" stroke-width="1.05"/>
<text x="479.35" y="106.93" text-anchor="end" class="tk">16</text>
<line x1="481.34999999999997" y1="54.00" x2="484.15" y2="54.00" stroke="#1a1a1a" stroke-width="1.05"/>
<text x="479.35" y="57.60" text-anchor="end" class="tk">24</text>
<line x1="651.5" y1="214.25" x2="655.7" y2="214.25" stroke="#1a1a1a" stroke-width="1.05"/>
<text x="657.30" y="217.85" class="tk">0</text>
<line x1="651.5" y1="148.47" x2="655.7" y2="148.47" stroke="#1a1a1a" stroke-width="1.05"/>
<text x="657.30" y="152.07" class="tk">4</text>
<line x1="651.5" y1="82.68" x2="655.7" y2="82.68" stroke="#1a1a1a" stroke-width="1.05"/>
<text x="657.30" y="86.28" class="tk">8</text>
<line x1="651.5" y1="16.90" x2="655.7" y2="16.90" stroke="#1a1a1a" stroke-width="1.05"/>
<text x="657.30" y="20.50" class="tk">12</text>
<line x1="501.20" y1="214.25" x2="501.20" y2="218.25" stroke="#1a1a1a" stroke-width="1.05"/>
<line x1="534.50" y1="214.25" x2="534.50" y2="218.25" stroke="#1a1a1a" stroke-width="1.05"/>
<line x1="567.80" y1="214.25" x2="567.80" y2="218.25" stroke="#1a1a1a" stroke-width="1.05"/>
<line x1="601.10" y1="214.25" x2="601.10" y2="218.25" stroke="#1a1a1a" stroke-width="1.05"/>
<line x1="634.40" y1="214.25" x2="634.40" y2="218.25" stroke="#1a1a1a" stroke-width="1.05"/>
<text x="569" y="11.4" text-anchor="middle" class="ti">Korea and Japan</text>
<text x="456.5" y="10" class="lt">c</text>
<text x="566.80" y="77.1" class="r2">R<tspan class="sup" dy="-4.9">2</tspan><tspan dy="4.9">=0.47</tspan><tspan class="st" dy="-1.6">**</tspan></text>
<text x="566.80" y="145.9" class="r2">R<tspan class="sup" dy="-4.9">2</tspan><tspan dy="4.9">=0.45</tspan><tspan class="st" dy="-1.6">**</tspan></text>
<text x="572.70" y="190.6" class="r2">R<tspan class="sup" dy="-4.9">2</tspan><tspan dy="4.9">=0.27</tspan></text>
<clipPath id="cpd"><rect x="40.4" y="240.75" width="171.0" height="199.7"/></clipPath>
<g fill="#a2a2a2" stroke="#1a1a1a" stroke-width="0.8"><rect x="56.58" y="416.70" width="2.05" height="23.75"/><rect x="63.38" y="420.20" width="2.05" height="20.25"/><rect x="66.77" y="406.40" width="2.05" height="34.05"/><rect x="70.17" y="404.90" width="2.05" height="35.55"/><rect x="73.57" y="404.90" width="2.05" height="35.55"/><rect x="76.97" y="416.70" width="2.05" height="23.75"/><rect x="80.38" y="421.30" width="2.05" height="19.15"/><rect x="83.77" y="418.50" width="2.05" height="21.95"/><rect x="87.17" y="413.00" width="2.05" height="27.45"/><rect x="90.57" y="409.70" width="2.05" height="30.75"/><rect x="93.97" y="411.90" width="2.05" height="28.55"/><rect x="97.38" y="412.30" width="2.05" height="28.15"/><rect x="100.77" y="415.20" width="2.05" height="25.25"/><rect x="104.17" y="415.60" width="2.05" height="24.85"/><rect x="107.57" y="416.30" width="2.05" height="24.15"/><rect x="110.97" y="418.00" width="2.05" height="22.45"/><rect x="114.38" y="418.50" width="2.05" height="21.95"/><rect x="117.77" y="417.40" width="2.05" height="23.05"/><rect x="121.17" y="418.00" width="2.05" height="22.45"/><rect x="124.57" y="420.00" width="2.05" height="20.45"/><rect x="127.97" y="421.70" width="2.05" height="18.75"/><rect x="131.38" y="422.40" width="2.05" height="18.05"/><rect x="134.78" y="423.30" width="2.05" height="17.15"/><rect x="138.17" y="423.30" width="2.05" height="17.15"/><rect x="141.57" y="424.00" width="2.05" height="16.45"/><rect x="144.97" y="424.00" width="2.05" height="16.45"/><rect x="148.38" y="424.40" width="2.05" height="16.05"/><rect x="151.78" y="426.10" width="2.05" height="14.35"/><rect x="155.17" y="424.00" width="2.05" height="16.45"/><rect x="158.57" y="426.60" width="2.05" height="13.85"/><rect x="161.97" y="427.20" width="2.05" height="13.25"/><rect x="165.38" y="427.70" width="2.05" height="12.75"/><rect x="168.78" y="427.70" width="2.05" height="12.75"/><rect x="172.17" y="427.70" width="2.05" height="12.75"/><rect x="175.57" y="426.80" width="2.05" height="13.65"/><rect x="178.97" y="426.60" width="2.05" height="13.85"/><rect x="182.38" y="426.60" width="2.05" height="13.85"/><rect x="185.77" y="426.30" width="2.05" height="14.15"/><rect x="189.17" y="426.30" width="2.05" height="14.15"/><rect x="192.57" y="426.30" width="2.05" height="14.15"/></g>
<path d="M57.50 355.40V381.40M63.50 373.09V399.09M70.50 360.84V386.84M77.50 360.84V386.84M81.50 364.57V388.57M84.50 356.40V380.40M88.50 349.59V373.59M90.50 346.87V370.87M95.50 341.43V365.43M100.50 342.79V366.79M104.50 340.07V364.07M110.50 344.15V368.15M114.50 341.43V365.43M118.50 343.07V361.07M122.50 338.99V356.99M126.50 337.62V355.62M130.50 338.99V356.99M134.50 340.35V358.35M138.50 337.62V355.62M142.50 337.62V355.62M146.50 338.99V356.99M150.50 344.99V350.99M156.50 347.71V353.71M161.50 350.43V356.43M167.50 354.51V360.51M172.50 357.23V363.23M178.50 355.87V361.87M183.50 358.59V364.59M187.50 357.23V363.23" stroke="#000" stroke-width="1.25" fill="none" clip-path="url(#cpd)"/>
<g fill="#f1c87c" stroke="#000" stroke-width="1.1"><circle cx="57.51" cy="368.40" r="3.45"/><circle cx="63.77" cy="386.09" r="3.45"/><circle cx="70.58" cy="373.84" r="3.45"/><circle cx="77.38" cy="373.84" r="3.45"/><circle cx="81.47" cy="376.57" r="3.45"/><circle cx="84.19" cy="368.40" r="3.45"/><circle cx="88.27" cy="361.59" r="3.45"/><circle cx="90.99" cy="358.87" r="3.45"/><circle cx="95.08" cy="353.43" r="3.45"/><circle cx="100.52" cy="354.79" r="3.45"/><circle cx="104.60" cy="352.07" r="3.45"/><circle cx="110.05" cy="356.15" r="3.45"/><circle cx="114.13" cy="353.43" r="3.45"/><circle cx="118.21" cy="352.07" r="3.45"/><circle cx="122.29" cy="347.99" r="3.45"/><circle cx="126.38" cy="346.62" r="3.45"/><circle cx="130.46" cy="347.99" r="3.45"/><circle cx="134.54" cy="349.35" r="3.45"/><circle cx="138.62" cy="346.62" r="3.45"/><circle cx="142.71" cy="346.62" r="3.45"/><circle cx="146.79" cy="347.99" r="3.45"/><circle cx="150.87" cy="347.99" r="3.45"/><circle cx="156.32" cy="350.71" r="3.45"/><circle cx="161.76" cy="353.43" r="3.45"/><circle cx="167.20" cy="357.51" r="3.45"/><circle cx="172.65" cy="360.23" r="3.45"/><circle cx="178.09" cy="358.87" r="3.45"/><circle cx="183.54" cy="361.59" r="3.45"/><circle cx="187.62" cy="360.23" r="3.45"/></g>
<path d="M152.80 350.77L156.10 356.47H149.50ZM156.20 353.68L159.50 359.38H152.90ZM159.60 351.06L162.90 356.76H156.30ZM163.00 353.62L166.30 359.32H159.70ZM166.40 352.27L169.70 357.97H163.10ZM169.80 354.37L173.10 360.07H166.50ZM173.20 352.48L176.50 358.18H169.90ZM176.60 355.35L179.90 361.05H173.30ZM180.00 352.53L183.30 358.23H176.70ZM183.40 355.62L186.70 361.32H180.10ZM186.80 353.18L190.10 358.88H183.50ZM190.20 356.18L193.50 361.88H186.90ZM193.60 354.12L196.90 359.82H190.30Z" stroke="#ecc67c" stroke-width="1.4" fill="#fff" stroke-linejoin="miter"/>
<path d="M57.50 389.90V395.90M63.50 398.06V404.06M69.50 396.70V402.70M74.50 393.98V399.98M78.50 389.90V395.90M82.50 391.26V397.26M87.50 383.09V389.09M90.50 391.26V397.26M95.50 387.17V393.17M99.50 385.81V391.81M104.50 388.54V394.54M108.50 385.81V391.81M112.50 383.09V389.09M118.50 384.45V390.45M122.50 380.37V386.37M126.50 377.65V383.65M130.50 374.93V380.93M134.50 376.29V382.29M138.50 373.57V379.57M142.50 369.48V375.48M146.50 368.12V374.12M152.50 362.68V368.68M156.50 364.04V370.04M161.50 366.76V372.76M167.50 366.76V372.76M172.50 369.48V375.48M178.50 370.84V376.84M183.50 373.57V379.57M187.50 372.20V378.20" stroke="#000" stroke-width="1.25" fill="none" clip-path="url(#cpd)"/>
<g fill="#a58cc1" stroke="#000" stroke-width="1.1"><circle cx="57.51" cy="392.90" r="3.45"/><circle cx="63.77" cy="401.06" r="3.45"/><circle cx="69.22" cy="399.70" r="3.45"/><circle cx="74.12" cy="396.98" r="3.45"/><circle cx="78.74" cy="392.90" r="3.45"/><circle cx="82.83" cy="394.26" r="3.45"/><circle cx="87.73" cy="386.09" r="3.45"/><circle cx="90.99" cy="394.26" r="3.45"/><circle cx="95.08" cy="390.17" r="3.45"/><circle cx="99.16" cy="388.81" r="3.45"/><circle cx="104.60" cy="391.54" r="3.45"/><circle cx="108.68" cy="388.81" r="3.45"/><circle cx="112.77" cy="386.09" r="3.45"/><circle cx="118.21" cy="387.45" r="3.45"/><circle cx="122.29" cy="383.37" r="3.45"/><circle cx="126.38" cy="380.65" r="3.45"/><circle cx="130.46" cy="377.93" r="3.45"/><circle cx="134.54" cy="379.29" r="3.45"/><circle cx="138.62" cy="376.57" r="3.45"/><circle cx="142.71" cy="372.48" r="3.45"/><circle cx="146.79" cy="371.12" r="3.45"/><circle cx="152.23" cy="365.68" r="3.45"/><circle cx="156.32" cy="367.04" r="3.45"/><circle cx="161.76" cy="369.76" r="3.45"/><circle cx="167.20" cy="369.76" r="3.45"/><circle cx="172.65" cy="372.48" r="3.45"/><circle cx="178.09" cy="373.84" r="3.45"/><circle cx="183.54" cy="376.57" r="3.45"/><circle cx="187.62" cy="375.20" r="3.45"/></g>
<path d="M152.80 363.89L156.10 369.59H149.50ZM156.20 366.96L159.50 372.66H152.90ZM159.60 364.05L162.90 369.75H156.30ZM163.00 367.82L166.30 373.52H159.70ZM166.40 365.31L169.70 371.01H163.10ZM169.80 367.74L173.10 373.44H166.50ZM173.20 366.02L176.50 371.72H169.90ZM176.60 368.40L179.90 374.10H173.30ZM180.00 365.99L183.30 371.69H176.70ZM183.40 368.96L186.70 374.66H180.10ZM186.80 366.90L190.10 372.60H183.50ZM190.20 369.72L193.50 375.42H186.90ZM193.60 367.85L196.90 373.55H190.30Z" stroke="#ad96cb" stroke-width="1.4" fill="#fff" stroke-linejoin="miter"/>
<path d="M57.50 332.44V362.44M63.50 357.48V387.48M69.50 346.59V376.59M74.50 345.23V375.23M77.50 339.79V369.79M81.50 345.87V371.87M84.50 333.62V359.62M87.50 270.15V327.15M90.50 318.65V344.65M95.50 314.57V340.57M99.50 320.02V346.02M104.50 311.85V337.85M108.50 318.11V344.11M112.50 313.21V339.21M118.50 318.93V338.93M122.50 305.32V325.32M126.50 303.96V323.96M130.50 305.32V325.32M134.50 301.24V321.24M138.50 302.60V322.60M142.50 295.80V315.80M146.50 298.52V318.52M152.50 298.71V304.71M156.50 306.88V312.88M161.50 302.80V308.80M167.50 302.80V308.80M169.50 316.41V322.41M175.50 317.22V323.22M183.50 321.03V327.03M188.50 321.85V327.85" stroke="#000" stroke-width="1.25" fill="none" clip-path="url(#cpd)"/>
<g fill="#88c38a" stroke="#000" stroke-width="1.1"><circle cx="57.51" cy="347.44" r="3.45"/><circle cx="63.77" cy="372.48" r="3.45"/><circle cx="69.22" cy="361.59" r="3.45"/><circle cx="74.12" cy="360.23" r="3.45"/><circle cx="77.38" cy="354.79" r="3.45"/><circle cx="81.47" cy="358.87" r="3.45"/><circle cx="84.19" cy="346.62" r="3.45"/><circle cx="87.73" cy="313.15" r="3.45"/><circle cx="90.99" cy="331.65" r="3.45"/><circle cx="95.08" cy="327.57" r="3.45"/><circle cx="99.16" cy="333.02" r="3.45"/><circle cx="104.60" cy="324.85" r="3.45"/><circle cx="108.68" cy="331.11" r="3.45"/><circle cx="112.77" cy="326.21" r="3.45"/><circle cx="118.21" cy="328.93" r="3.45"/><circle cx="122.29" cy="315.32" r="3.45"/><circle cx="126.38" cy="313.96" r="3.45"/><circle cx="130.46" cy="315.32" r="3.45"/><circle cx="134.54" cy="311.24" r="3.45"/><circle cx="138.62" cy="312.60" r="3.45"/><circle cx="142.71" cy="305.80" r="3.45"/><circle cx="146.79" cy="308.52" r="3.45"/><circle cx="152.23" cy="301.71" r="3.45"/><circle cx="156.32" cy="309.88" r="3.45"/><circle cx="161.76" cy="305.80" r="3.45"/><circle cx="167.20" cy="305.80" r="3.45"/><circle cx="169.93" cy="319.41" r="3.45"/><circle cx="175.37" cy="320.22" r="3.45"/><circle cx="183.54" cy="324.03" r="3.45"/><circle cx="188.98" cy="324.85" r="3.45"/></g>
<path d="M152.80 309.25L156.10 314.95H149.50ZM156.20 313.41L159.50 319.11H152.90ZM159.60 309.52L162.90 315.22H156.30ZM163.00 314.27L166.30 319.97H159.70ZM166.40 311.17L169.70 316.87H163.10ZM169.80 315.46L173.10 321.16H166.50ZM173.20 312.67L176.50 318.37H169.90ZM176.60 316.34L179.90 322.04H173.30ZM180.00 312.98L183.30 318.68H176.70ZM183.40 317.78L186.70 323.48H180.10ZM186.80 314.81L190.10 320.51H183.50ZM190.20 318.01L193.50 323.71H186.90ZM193.60 315.82L196.90 321.52H190.30Z" stroke="#84c186" stroke-width="1.4" fill="#fff" stroke-linejoin="miter"/>
<path d="M56.97 371.12C59.01 368.85 64.91 362.05 69.22 357.51C73.53 352.98 78.29 347.99 82.83 343.90C87.36 339.82 91.90 336.33 96.44 333.02C100.97 329.70 105.51 326.62 110.05 324.03C114.58 321.45 119.12 319.32 123.65 317.50C128.19 315.69 132.73 314.14 137.26 313.15C141.80 312.15 146.34 311.47 150.87 311.51C155.41 311.56 159.95 312.42 164.48 313.42C169.02 314.42 173.10 315.91 178.09 317.50C183.08 319.09 191.70 322.04 194.42 322.95" fill="none" stroke="#000" stroke-width="2.5"/>
<path d="M56.97 380.65C59.01 378.83 64.91 372.94 69.22 369.76C73.53 366.59 78.29 363.86 82.83 361.59C87.36 359.33 91.90 357.60 96.44 356.15C100.97 354.70 105.51 353.70 110.05 352.89C114.58 352.07 119.12 351.61 123.65 351.25C128.19 350.89 132.73 350.66 137.26 350.71C141.80 350.75 146.34 350.84 150.87 351.52C155.41 352.20 159.95 353.66 164.48 354.79C169.02 355.92 173.10 356.97 178.09 358.33C183.08 359.69 191.70 362.18 194.42 362.96" fill="none" stroke="#000" stroke-width="2.5"/>
<path d="M56.97 405.14C59.01 404.01 64.91 400.38 69.22 398.34C73.53 396.30 78.29 394.48 82.83 392.90C87.36 391.31 91.90 390.17 96.44 388.81C100.97 387.45 105.51 386.09 110.05 384.73C114.58 383.37 119.12 382.10 123.65 380.65C128.19 379.20 132.73 377.29 137.26 376.02C141.80 374.75 146.34 373.84 150.87 373.03C155.41 372.21 159.95 371.58 164.48 371.12C169.02 370.67 173.10 370.40 178.09 370.30C183.08 370.21 191.70 370.53 194.42 370.58" fill="none" stroke="#000" stroke-width="2.5"/>
<rect x="40.4" y="240.75" width="171.00" height="199.70" fill="none" stroke="#1a1a1a" stroke-width="1.2"/>
<line x1="37.6" y1="412.40" x2="40.4" y2="412.40" stroke="#1a1a1a" stroke-width="1.05"/>
<text x="33.50" y="416.00" text-anchor="end" class="tk">0</text>
<line x1="37.6" y1="355.18" x2="40.4" y2="355.18" stroke="#1a1a1a" stroke-width="1.05"/>
<text x="33.50" y="358.78" text-anchor="end" class="tk">8</text>
<line x1="37.6" y1="297.97" x2="40.4" y2="297.97" stroke="#1a1a1a" stroke-width="1.05"/>
<text x="35.60" y="301.57" text-anchor="end" class="tk">16</text>
<line x1="37.6" y1="240.75" x2="40.4" y2="240.75" stroke="#1a1a1a" stroke-width="1.05"/>
<text x="35.50" y="246.10" text-anchor="end" class="tk">24</text>
<line x1="211.4" y1="440.45" x2="215.6" y2="440.45" stroke="#1a1a1a" stroke-width="1.05"/>
<text x="217.20" y="444.05" class="tk">0</text>
<line x1="211.4" y1="380.52" x2="215.6" y2="380.52" stroke="#1a1a1a" stroke-width="1.05"/>
<text x="217.20" y="384.12" class="tk">6</text>
<line x1="211.4" y1="320.60" x2="215.6" y2="320.60" stroke="#1a1a1a" stroke-width="1.05"/>
<text x="217.20" y="324.20" class="tk">12</text>
<line x1="211.4" y1="260.68" x2="215.6" y2="260.68" stroke="#1a1a1a" stroke-width="1.05"/>
<text x="217.20" y="264.28" class="tk">18</text>
<line x1="57.60" y1="440.45" x2="57.60" y2="444.45" stroke="#1a1a1a" stroke-width="1.05"/>
<line x1="91.60" y1="440.45" x2="91.60" y2="444.45" stroke="#1a1a1a" stroke-width="1.05"/>
<line x1="125.60" y1="440.45" x2="125.60" y2="444.45" stroke="#1a1a1a" stroke-width="1.05"/>
<line x1="159.60" y1="440.45" x2="159.60" y2="444.45" stroke="#1a1a1a" stroke-width="1.05"/>
<line x1="193.60" y1="440.45" x2="193.60" y2="444.45" stroke="#1a1a1a" stroke-width="1.05"/>
<text x="131" y="236" text-anchor="middle" class="ti">China</text>
<text x="1.5" y="236" class="lt">d</text>
<text x="115.70" y="283.3" class="r2">R<tspan class="sup" dy="-4.9">2</tspan><tspan dy="4.9">=0.82</tspan><tspan class="st" dy="-1.6">**</tspan></text>
<text x="144.20" y="341.3" class="r2">R<tspan class="sup" dy="-4.9">2</tspan><tspan dy="4.9">=0.66</tspan><tspan class="st" dy="-1.6">**</tspan></text>
<text x="135.00" y="396.9" class="r2">R<tspan class="sup" dy="-4.9">2</tspan><tspan dy="4.9">=0.89</tspan><tspan class="st" dy="-1.6">**</tspan></text>
<clipPath id="cpe"><rect x="262.7" y="240.9" width="169.8" height="198.29999999999998"/></clipPath>
<g fill="#a2a2a2" stroke="#1a1a1a" stroke-width="0.8"><rect x="312.58" y="423.20" width="2.05" height="16.00"/><rect x="315.98" y="420.60" width="2.05" height="18.60"/><rect x="319.38" y="414.20" width="2.05" height="25.00"/><rect x="322.78" y="416.50" width="2.05" height="22.70"/><rect x="326.18" y="422.30" width="2.05" height="16.90"/><rect x="329.58" y="423.20" width="2.05" height="16.00"/><rect x="332.98" y="421.40" width="2.05" height="17.80"/><rect x="336.38" y="412.10" width="2.05" height="27.10"/><rect x="339.78" y="419.20" width="2.05" height="20.00"/><rect x="343.18" y="417.90" width="2.05" height="21.30"/><rect x="346.58" y="419.20" width="2.05" height="20.00"/><rect x="349.98" y="424.40" width="2.05" height="14.80"/><rect x="353.38" y="413.50" width="2.05" height="25.70"/><rect x="356.78" y="414.20" width="2.05" height="25.00"/><rect x="360.18" y="411.30" width="2.05" height="27.90"/><rect x="363.58" y="415.30" width="2.05" height="23.90"/><rect x="366.98" y="403.40" width="2.05" height="35.80"/><rect x="370.38" y="403.90" width="2.05" height="35.30"/><rect x="373.78" y="411.30" width="2.05" height="27.90"/><rect x="377.18" y="409.50" width="2.05" height="29.70"/><rect x="380.58" y="416.00" width="2.05" height="23.20"/><rect x="383.98" y="413.40" width="2.05" height="25.80"/><rect x="387.38" y="417.40" width="2.05" height="21.80"/><rect x="390.78" y="415.10" width="2.05" height="24.10"/><rect x="394.18" y="396.40" width="2.05" height="42.80"/><rect x="397.58" y="406.90" width="2.05" height="32.30"/><rect x="400.98" y="406.40" width="2.05" height="32.80"/><rect x="404.38" y="408.30" width="2.05" height="30.90"/><rect x="407.78" y="411.30" width="2.05" height="27.90"/><rect x="411.18" y="409.50" width="2.05" height="29.70"/><rect x="414.58" y="409.50" width="2.05" height="29.70"/></g>
<path d="M313.50 362.08V396.08M320.50 327.16V361.16M327.50 331.35V365.35M334.50 350.91V384.91M337.50 334.15V368.15M341.50 338.34V372.34M346.50 347.53V371.53M350.50 354.51V378.51M353.50 343.34V367.34M357.50 339.15V363.15M363.50 336.35V360.35M370.50 312.61V336.61M374.50 325.18V349.18M377.50 336.35V360.35M383.50 333.56V357.56M387.50 329.37V353.37M391.50 332.16V356.16M398.50 318.20V342.20M402.50 325.18V349.18M405.50 323.78V347.78M313.50 340.00V383.00M317.50 340.00V397.40M320.50 340.00V386.20M323.50 340.00V387.80M326.50 340.00V391.80M330.50 340.00V383.00M333.50 340.00V386.20M337.50 340.00V385.40M341.50 340.00V381.40M344.50 340.00V371.80M347.50 340.00V367.00M351.50 340.00V373.40M354.50 340.00V367.00M357.50 340.00V365.30M361.50 340.00V368.50M365.50 340.00V362.10M368.50 340.00V362.90M371.50 340.00V360.50M374.50 340.00V363.70M378.50 340.00V366.10M388.50 340.00V363.70M391.50 340.00V363.70M394.50 340.00V374.20M398.50 340.00V366.10M401.50 340.00V361.30M405.50 340.00V364.50M408.50 340.00V360.50M411.50 340.00V361.30M316.50 304.00V334.00M320.50 285.50V315.50M327.50 300.00V330.00M330.50 277.50V307.50M337.50 306.40V336.40M340.50 307.20V337.20M364.50 293.50V323.50M367.50 271.00V301.00M370.50 262.20V292.20M374.50 279.10V309.10M381.50 276.70V306.70M401.50 271.00V301.00M397.50 280.00V310.00" stroke="#000" stroke-width="1.25" fill="none" clip-path="url(#cpe)"/>
<g fill="#f1c87c" stroke="#000" stroke-width="1.1"><circle cx="313.28" cy="379.08" r="3.45"/><circle cx="320.26" cy="344.16" r="3.45"/><circle cx="327.25" cy="348.35" r="3.45"/><circle cx="334.23" cy="367.91" r="3.45"/><circle cx="337.02" cy="351.15" r="3.45"/><circle cx="341.21" cy="355.34" r="3.45"/><circle cx="346.80" cy="359.53" r="3.45"/><circle cx="350.99" cy="366.51" r="3.45"/><circle cx="353.78" cy="355.34" r="3.45"/><circle cx="357.97" cy="351.15" r="3.45"/><circle cx="363.56" cy="348.35" r="3.45"/><circle cx="370.54" cy="324.61" r="3.45"/><circle cx="374.73" cy="337.18" r="3.45"/><circle cx="377.53" cy="348.35" r="3.45"/><circle cx="383.11" cy="345.56" r="3.45"/><circle cx="387.30" cy="341.37" r="3.45"/><circle cx="391.49" cy="344.16" r="3.45"/><circle cx="398.47" cy="330.20" r="3.45"/><circle cx="402.66" cy="337.18" r="3.45"/><circle cx="405.46" cy="335.78" r="3.45"/></g>
<path d="M374.80 335.45L378.10 341.15H371.50ZM378.20 338.81L381.50 344.51H374.90ZM381.60 335.31L384.90 341.01H378.30ZM385.00 338.54L388.30 344.24H381.70ZM388.40 334.42L391.70 340.12H385.10ZM391.80 337.82L395.10 343.52H388.50ZM395.20 334.09L398.50 339.79H391.90ZM398.60 338.35L401.90 344.05H395.30ZM402.00 333.62L405.30 339.32H398.70ZM405.40 338.35L408.70 344.05H402.10ZM408.80 334.09L412.10 339.79H405.50ZM412.20 336.82L415.50 342.52H408.90ZM415.60 332.86L418.90 338.56H412.30Z" stroke="#ecc67c" stroke-width="1.4" fill="#fff" stroke-linejoin="miter"/>
<path d="M313.50 357.93V387.93M317.50 336.15V366.15M323.50 336.15V366.15M330.50 333.35V363.35M332.50 347.32V377.32M337.50 344.53V374.53M341.50 341.73V371.73M346.50 345.34V365.34M350.50 349.53V369.53M355.50 346.73V366.73M360.50 348.13V368.13M364.50 342.54V362.54M370.50 341.15V361.15M374.50 343.94V363.94M380.50 341.15V361.15M385.50 342.54V362.54M391.50 349.53V369.53M395.50 357.91V377.91" stroke="#000" stroke-width="1.25" fill="none" clip-path="url(#cpe)"/>
<g fill="#a58cc1" stroke="#000" stroke-width="1.1"><circle cx="313.28" cy="372.93" r="3.45"/><circle cx="317.47" cy="351.15" r="3.45"/><circle cx="323.06" cy="351.15" r="3.45"/><circle cx="330.04" cy="348.35" r="3.45"/><circle cx="332.83" cy="362.32" r="3.45"/><circle cx="337.02" cy="359.53" r="3.45"/><circle cx="341.21" cy="356.73" r="3.45"/><circle cx="346.80" cy="355.34" r="3.45"/><circle cx="350.99" cy="359.53" r="3.45"/><circle cx="355.18" cy="356.73" r="3.45"/><circle cx="360.77" cy="358.13" r="3.45"/><circle cx="364.96" cy="352.54" r="3.45"/><circle cx="370.54" cy="351.15" r="3.45"/><circle cx="374.73" cy="353.94" r="3.45"/><circle cx="380.32" cy="351.15" r="3.45"/><circle cx="385.91" cy="352.54" r="3.45"/><circle cx="391.49" cy="359.53" r="3.45"/><circle cx="395.68" cy="367.91" r="3.45"/></g>
<path d="M374.80 346.40L378.10 352.10H371.50ZM378.20 350.04L381.50 355.74H374.90ZM381.60 346.81L384.90 352.51H378.30ZM385.00 350.49L388.30 356.19H381.70ZM388.40 347.32L391.70 353.02H385.10ZM391.80 351.32L395.10 357.02H388.50ZM395.20 348.06L398.50 353.76H391.90ZM398.60 351.78L401.90 357.48H395.30ZM402.00 348.94L405.30 354.64H398.70ZM405.40 351.76L408.70 357.46H402.10ZM408.80 348.94L412.10 354.64H405.50ZM412.20 352.01L415.50 357.71H408.90ZM415.60 348.80L418.90 354.50H412.30Z" stroke="#ad96cb" stroke-width="1.4" fill="#fff" stroke-linejoin="miter"/>
<path d="M313.50 344.70V381.10M316.50 307.80V346.80M320.50 281.30V338.50M324.50 318.90V350.10M327.50 296.80V348.80M330.50 271.40V318.20M333.50 325.10V361.50M337.50 306.20V342.60M340.50 313.60V350.00M347.50 305.60V336.80M350.50 314.10V345.30M354.50 303.30V334.50M357.50 300.40V329.00M360.50 297.70V326.30M364.50 290.20V316.20M367.50 267.60V304.00M370.50 258.50V294.90M374.50 276.00V307.20M378.50 293.10V319.10M381.50 274.90V300.90M388.50 298.20V324.20M391.50 310.70V334.10M394.50 301.40V324.80M397.50 277.00V303.00M401.50 266.50V302.90M405.50 283.10V306.50M410.50 289.60V310.40" stroke="#000" stroke-width="1.25" fill="none" clip-path="url(#cpe)"/>
<g fill="#88c38a" stroke="#000" stroke-width="1.1"><circle cx="313.30" cy="362.90" r="3.45"/><circle cx="316.60" cy="327.30" r="3.45"/><circle cx="320.30" cy="309.90" r="3.45"/><circle cx="324.00" cy="334.50" r="3.45"/><circle cx="327.20" cy="322.80" r="3.45"/><circle cx="330.40" cy="294.80" r="3.45"/><circle cx="333.90" cy="343.30" r="3.45"/><circle cx="337.10" cy="324.40" r="3.45"/><circle cx="340.70" cy="331.80" r="3.45"/><circle cx="347.10" cy="321.20" r="3.45"/><circle cx="350.80" cy="329.70" r="3.45"/><circle cx="354.00" cy="318.90" r="3.45"/><circle cx="357.20" cy="314.70" r="3.45"/><circle cx="360.90" cy="312.00" r="3.45"/><circle cx="364.10" cy="303.20" r="3.45"/><circle cx="367.60" cy="285.80" r="3.45"/><circle cx="370.80" cy="276.70" r="3.45"/><circle cx="374.40" cy="291.60" r="3.45"/><circle cx="378.90" cy="306.10" r="3.45"/><circle cx="381.30" cy="287.90" r="3.45"/><circle cx="388.20" cy="311.20" r="3.45"/><circle cx="391.70" cy="322.40" r="3.45"/><circle cx="394.90" cy="313.10" r="3.45"/><circle cx="397.80" cy="290.00" r="3.45"/><circle cx="401.40" cy="284.70" r="3.45"/><circle cx="405.40" cy="294.80" r="3.45"/><circle cx="410.00" cy="300.00" r="3.45"/></g>
<path d="M374.80 294.68L378.10 300.38H371.50ZM378.20 301.52L381.50 307.22H374.90ZM381.60 293.88L384.90 299.58H378.30ZM385.00 303.07L388.30 308.77H381.70ZM388.40 295.85L391.70 301.55H385.10ZM391.80 301.85L395.10 307.55H388.50ZM395.20 295.30L398.50 301.00H391.90ZM398.60 303.89L401.90 309.59H395.30ZM402.00 297.42L405.30 303.12H398.70ZM405.40 304.80L408.70 310.50H402.10ZM408.80 297.98L412.10 303.68H405.50ZM412.20 305.92L415.50 311.62H408.90ZM415.60 299.64L418.90 305.34H412.30Z" stroke="#84c186" stroke-width="1.4" fill="#fff" stroke-linejoin="miter"/>
<path d="M313.28 339.97C315.61 337.64 322.59 329.96 327.25 326.01C331.90 322.05 336.56 319.12 341.21 316.23C345.87 313.34 350.52 310.78 355.18 308.69C359.83 306.59 364.49 305.06 369.15 303.66C373.80 302.26 378.46 301.05 383.11 300.31C387.77 299.56 391.49 299.28 397.08 299.19C402.66 299.10 413.37 299.66 416.63 299.75" fill="none" stroke="#000" stroke-width="2.5"/>
<path d="M313.28 356.73C315.61 356.17 322.59 354.40 327.25 353.38C331.90 352.36 336.56 351.52 341.21 350.59C345.87 349.66 350.52 348.72 355.18 347.79C359.83 346.86 364.49 345.84 369.15 345.00C373.80 344.16 378.46 343.37 383.11 342.77C387.77 342.16 391.49 341.74 397.08 341.37C402.66 341.00 413.37 340.67 416.63 340.53" fill="none" stroke="#000" stroke-width="2.5"/>
<path d="M313.28 365.11C315.61 364.27 322.59 361.48 327.25 360.08C331.90 358.69 336.56 357.62 341.21 356.73C345.87 355.85 350.52 355.24 355.18 354.78C359.83 354.31 364.49 354.08 369.15 353.94C373.80 353.80 378.46 353.80 383.11 353.94C387.77 354.08 391.49 354.31 397.08 354.78C402.66 355.24 413.37 356.41 416.63 356.73" fill="none" stroke="#000" stroke-width="2.5"/>
<rect x="262.7" y="240.9" width="169.80" height="198.30" fill="none" stroke="#1a1a1a" stroke-width="1.2"/>
<line x1="259.9" y1="395.00" x2="262.7" y2="395.00" stroke="#1a1a1a" stroke-width="1.05"/>
<text x="259.30" y="398.60" text-anchor="end" class="tk">0.0</text>
<line x1="259.9" y1="344.00" x2="262.7" y2="344.00" stroke="#1a1a1a" stroke-width="1.05"/>
<text x="259.30" y="347.60" text-anchor="end" class="tk">1.2</text>
<line x1="259.9" y1="293.00" x2="262.7" y2="293.00" stroke="#1a1a1a" stroke-width="1.05"/>
<text x="259.30" y="296.60" text-anchor="end" class="tk">2.4</text>
<line x1="259.9" y1="242.00" x2="262.7" y2="242.00" stroke="#1a1a1a" stroke-width="1.05"/>
<text x="259.80" y="248.20" text-anchor="end" class="tk">3.6</text>
<line x1="432.5" y1="439.20" x2="436.7" y2="439.20" stroke="#1a1a1a" stroke-width="1.05"/>
<text x="441.20" y="442.80" class="tk">0</text>
<line x1="432.5" y1="373.10" x2="436.7" y2="373.10" stroke="#1a1a1a" stroke-width="1.05"/>
<text x="441.20" y="376.70" class="tk">3</text>
<line x1="432.5" y1="307.00" x2="436.7" y2="307.00" stroke="#1a1a1a" stroke-width="1.05"/>
<text x="441.20" y="310.60" class="tk">6</text>
<line x1="432.5" y1="240.90" x2="436.7" y2="240.90" stroke="#1a1a1a" stroke-width="1.05"/>
<text x="440.50" y="248.20" class="tk">9</text>
<line x1="279.60" y1="439.2" x2="279.60" y2="443.2" stroke="#1a1a1a" stroke-width="1.05"/>
<line x1="313.60" y1="439.2" x2="313.60" y2="443.2" stroke="#1a1a1a" stroke-width="1.05"/>
<line x1="347.60" y1="439.2" x2="347.60" y2="443.2" stroke="#1a1a1a" stroke-width="1.05"/>
<line x1="381.60" y1="439.2" x2="381.60" y2="443.2" stroke="#1a1a1a" stroke-width="1.05"/>
<line x1="415.60" y1="439.2" x2="415.60" y2="443.2" stroke="#1a1a1a" stroke-width="1.05"/>
<text x="348.3" y="236" text-anchor="middle" class="ti">Russia</text>
<text x="228.5" y="236" class="lt">e</text>
<text x="298.10" y="270.7" class="r2">R<tspan class="sup" dy="-4.9">2</tspan><tspan dy="4.9">=0.50</tspan><tspan class="st" dy="-1.6">**</tspan></text>
<text x="366.80" y="391.1" class="r2">R<tspan class="sup" dy="-4.9">2</tspan><tspan dy="4.9">=0.02</tspan></text>
<text x="265.30" y="410.6" class="r2">R<tspan class="sup" dy="-4.9">2</tspan><tspan dy="4.9">=0.49</tspan><tspan class="st" dy="-1.6">**</tspan></text>
<clipPath id="cpf"><rect x="484.35" y="240.8" width="167.14999999999998" height="201.05"/></clipPath>
<g fill="#a2a2a2" stroke="#1a1a1a" stroke-width="0.8"><rect x="543.36" y="424.20" width="1.99" height="17.65"/><rect x="546.70" y="414.70" width="1.99" height="27.15"/><rect x="550.03" y="428.60" width="1.99" height="13.25"/><rect x="553.37" y="427.80" width="1.99" height="14.05"/><rect x="556.70" y="430.30" width="1.99" height="11.55"/><rect x="560.04" y="440.30" width="1.99" height="1.55"/><rect x="563.37" y="432.20" width="1.99" height="9.65"/><rect x="566.71" y="431.20" width="1.99" height="10.65"/><rect x="570.04" y="426.40" width="1.99" height="15.45"/><rect x="573.38" y="424.90" width="1.99" height="16.95"/><rect x="576.71" y="424.20" width="1.99" height="17.65"/><rect x="580.05" y="435.90" width="1.99" height="5.95"/><rect x="583.38" y="439.50" width="1.99" height="2.35"/><rect x="586.72" y="431.20" width="1.99" height="10.65"/><rect x="590.05" y="433.20" width="1.99" height="8.65"/><rect x="593.39" y="433.70" width="1.99" height="8.15"/><rect x="596.72" y="433.70" width="1.99" height="8.15"/><rect x="600.06" y="433.70" width="1.99" height="8.15"/><rect x="603.39" y="433.70" width="1.99" height="8.15"/><rect x="606.73" y="433.70" width="1.99" height="8.15"/><rect x="610.06" y="433.70" width="1.99" height="8.15"/><rect x="613.40" y="433.70" width="1.99" height="8.15"/><rect x="616.73" y="433.70" width="1.99" height="8.15"/><rect x="620.07" y="433.70" width="1.99" height="8.15"/><rect x="623.40" y="433.70" width="1.99" height="8.15"/><rect x="626.74" y="433.70" width="1.99" height="8.15"/><rect x="630.07" y="433.70" width="1.99" height="8.15"/><rect x="633.41" y="433.70" width="1.99" height="8.15"/></g>
<path d="M551.50 344.50V428.60M561.50 330.00V417.00M571.50 335.70V415.00M574.50 346.10V441.00M578.50 285.10V430.00M581.50 310.00V440.00M584.50 338.10V420.00M588.50 354.10V415.00M591.50 280.30V419.10M594.50 272.20V430.80M598.50 307.10V400.00M601.50 298.70V422.40M604.50 334.90V423.50M544.50 392.00V420.00M558.50 380.00V412.00M567.50 395.00V418.00" stroke="#000" stroke-width="1.25" fill="none" clip-path="url(#cpf)"/>
<g fill="#f1c87c" stroke="#000" stroke-width="1.1"><circle cx="549.50" cy="394.00" r="3.45"/><circle cx="571.10" cy="385.50" r="3.45"/><circle cx="575.70" cy="371.70" r="3.45"/><circle cx="585.00" cy="402.60" r="3.45"/><circle cx="600.70" cy="381.50" r="3.45"/><circle cx="611.20" cy="391.40" r="3.45"/><circle cx="604.60" cy="350.70" r="3.45"/><circle cx="555.00" cy="398.00" r="3.45"/><circle cx="590.00" cy="378.00" r="3.45"/></g>
<path d="M594.38 367.24V373.24M597.72 369.03V375.03M601.05 366.77V372.77M604.38 368.28V374.28M607.72 366.29V372.29M611.05 368.21V374.21M614.39 365.97V371.97M617.73 367.85V373.85M621.06 365.83V371.83M624.39 367.33V373.33M627.73 365.11V371.11M631.07 367.06V373.06M634.40 364.79V370.79" stroke="#ecc67c" stroke-width="1.1" fill="none"/>
<path d="M594.38 367.24L597.68 372.94H591.08ZM597.72 369.03L601.01 374.73H594.42ZM601.05 366.77L604.35 372.47H597.75ZM604.38 368.28L607.68 373.98H601.09ZM607.72 366.29L611.02 371.99H604.42ZM611.05 368.21L614.35 373.91H607.75ZM614.39 365.97L617.69 371.67H611.09ZM617.73 367.85L621.02 373.55H614.43ZM621.06 365.83L624.36 371.53H617.76ZM624.39 367.33L627.69 373.03H621.10ZM627.73 365.11L631.03 370.81H624.43ZM631.07 367.06L634.37 372.76H627.77ZM634.40 364.79L637.70 370.49H631.10Z" stroke="#ecc67c" stroke-width="1.4" fill="#fff" stroke-linejoin="miter"/>
<g fill="#a58cc1" stroke="#000" stroke-width="1.1"><circle cx="561.50" cy="362.20" r="3.45"/><circle cx="611.30" cy="338.90" r="3.45"/><circle cx="543.50" cy="409.10" r="3.45"/><circle cx="563.90" cy="405.20" r="3.45"/><circle cx="568.50" cy="410.40" r="3.45"/><circle cx="571.80" cy="398.60" r="3.45"/><circle cx="574.40" cy="405.20" r="3.45"/><circle cx="577.70" cy="393.40" r="3.45"/><circle cx="581.00" cy="400.60" r="3.45"/><circle cx="587.60" cy="389.40" r="3.45"/><circle cx="594.80" cy="380.90" r="3.45"/><circle cx="604.60" cy="378.90" r="3.45"/><circle cx="600.70" cy="391.40" r="3.45"/><circle cx="598.40" cy="353.00" r="3.45"/><circle cx="548.00" cy="412.00" r="3.45"/></g>
<path d="M594.38 364.79V368.79M597.72 367.14V371.14M601.05 364.60V368.60M604.38 366.56V370.56M607.72 364.38V368.38M611.05 366.66V370.66M614.39 364.14V368.14M617.73 365.57V369.57M621.06 363.83V367.83M624.39 365.33V369.33M627.73 363.44V367.44M631.07 365.01V369.01M634.40 363.30V367.30" stroke="#ad96cb" stroke-width="1.1" fill="none"/>
<path d="M594.38 363.79L597.68 369.49H591.08ZM597.72 366.14L601.01 371.84H594.42ZM601.05 363.60L604.35 369.30H597.75ZM604.38 365.56L607.68 371.26H601.09ZM607.72 363.38L611.02 369.08H604.42ZM611.05 365.66L614.35 371.36H607.75ZM614.39 363.14L617.69 368.84H611.09ZM617.73 364.57L621.02 370.27H614.43ZM621.06 362.83L624.36 368.53H617.76ZM624.39 364.33L627.69 370.03H621.10ZM627.73 362.44L631.03 368.14H624.43ZM631.07 364.01L634.37 369.71H627.77ZM634.40 362.30L637.70 368.00H631.10Z" stroke="#ad96cb" stroke-width="1.4" fill="#fff" stroke-linejoin="miter"/>
<g fill="#88c38a" stroke="#000" stroke-width="1.1"><circle cx="598.00" cy="287.80" r="3.45"/><circle cx="604.40" cy="313.20" r="3.45"/><circle cx="611.30" cy="319.60" r="3.45"/><circle cx="590.40" cy="327.60" r="3.45"/><circle cx="578.00" cy="351.70" r="3.45"/><circle cx="594.40" cy="351.70" r="3.45"/><circle cx="561.50" cy="354.90" r="3.45"/><circle cx="588.00" cy="359.40" r="3.45"/><circle cx="584.80" cy="365.40" r="3.45"/><circle cx="601.30" cy="359.70" r="3.45"/><circle cx="571.60" cy="370.20" r="3.45"/><circle cx="581.30" cy="372.60" r="3.45"/><circle cx="550.80" cy="386.10" r="3.45"/><circle cx="543.50" cy="400.60" r="3.45"/><circle cx="546.80" cy="403.20" r="3.45"/><circle cx="558.00" cy="392.00" r="3.45"/><circle cx="574.40" cy="377.60" r="3.45"/><circle cx="567.90" cy="405.80" r="3.45"/></g>
<path d="M594.38 317.22V333.22M597.72 321.13V337.13M601.05 316.39V332.39M604.38 320.18V336.18M607.72 316.52V332.52M611.05 320.64V336.64M614.39 316.51V332.51M617.73 319.58V335.58M621.06 317.29V333.29M624.39 319.83V335.83M627.73 316.05V332.05M631.07 319.46V335.46M634.40 316.25V332.25" stroke="#84c186" stroke-width="1.1" fill="none"/>
<path d="M594.38 322.22L597.68 327.92H591.08ZM597.72 326.13L601.01 331.83H594.42ZM601.05 321.39L604.35 327.09H597.75ZM604.38 325.18L607.68 330.88H601.09ZM607.72 321.52L611.02 327.22H604.42ZM611.05 325.64L614.35 331.34H607.75ZM614.39 321.51L617.69 327.21H611.09ZM617.73 324.58L621.02 330.28H614.43ZM621.06 322.29L624.36 327.99H617.76ZM624.39 324.83L627.69 330.53H621.10ZM627.73 321.05L631.03 326.75H624.43ZM631.07 324.46L634.37 330.16H627.77ZM634.40 321.25L637.70 326.95H631.10Z" stroke="#84c186" stroke-width="1.4" fill="#fff" stroke-linejoin="miter"/>
<path d="M544.68 414.35C546.33 411.53 550.56 404.00 554.56 397.41C558.56 390.83 563.97 382.12 568.67 374.83C573.38 367.54 578.08 359.78 582.79 353.66C587.49 347.55 592.19 342.38 596.90 338.14C601.60 333.91 606.31 330.85 611.01 328.26C615.72 325.68 620.89 323.89 625.12 322.62C629.36 321.35 634.53 320.97 636.41 320.64" fill="none" stroke="#000" stroke-width="2.5"/>
<path d="M544.68 412.94C546.33 411.29 550.56 406.59 554.56 403.06C558.56 399.53 563.97 395.06 568.67 391.77C573.38 388.48 578.08 386.12 582.79 383.30C587.49 380.48 592.19 377.19 596.90 374.83C601.60 372.48 606.31 370.69 611.01 369.19C615.72 367.68 620.89 366.51 625.12 365.80C629.36 365.10 634.53 365.10 636.41 364.95" fill="none" stroke="#000" stroke-width="2.5"/>
<path d="M544.68 411.53C546.33 410.11 550.56 406.12 554.56 403.06C558.56 400.00 563.97 396.14 568.67 393.18C573.38 390.22 578.08 387.86 582.79 385.28C587.49 382.69 592.19 379.77 596.90 377.66C601.60 375.54 606.31 373.85 611.01 372.58C615.72 371.31 620.89 370.60 625.12 370.04C629.36 369.47 634.53 369.33 636.41 369.19" fill="none" stroke="#000" stroke-width="2.5"/>
<rect x="484.35" y="240.8" width="167.15" height="201.05" fill="none" stroke="#1a1a1a" stroke-width="1.2"/>
<line x1="481.55" y1="412.00" x2="484.35" y2="412.00" stroke="#1a1a1a" stroke-width="1.05"/>
<text x="477.45" y="415.60" text-anchor="end" class="tk">0</text>
<line x1="481.55" y1="354.93" x2="484.35" y2="354.93" stroke="#1a1a1a" stroke-width="1.05"/>
<text x="477.45" y="358.53" text-anchor="end" class="tk">4</text>
<line x1="481.55" y1="297.87" x2="484.35" y2="297.87" stroke="#1a1a1a" stroke-width="1.05"/>
<text x="477.45" y="301.47" text-anchor="end" class="tk">8</text>
<line x1="481.55" y1="240.80" x2="484.35" y2="240.80" stroke="#1a1a1a" stroke-width="1.05"/>
<text x="479.50" y="247.90" text-anchor="end" class="tk">12</text>
<line x1="651.5" y1="441.85" x2="655.7" y2="441.85" stroke="#1a1a1a" stroke-width="1.05"/>
<text x="657.30" y="445.45" class="tk">0</text>
<line x1="651.5" y1="374.83" x2="655.7" y2="374.83" stroke="#1a1a1a" stroke-width="1.05"/>
<text x="657.30" y="378.43" class="tk">8</text>
<line x1="651.5" y1="307.82" x2="655.7" y2="307.82" stroke="#1a1a1a" stroke-width="1.05"/>
<text x="657.30" y="311.42" class="tk">16</text>
<line x1="651.5" y1="240.80" x2="655.7" y2="240.80" stroke="#1a1a1a" stroke-width="1.05"/>
<text x="657.70" y="243.80" class="tk">24</text>
<line x1="501.00" y1="441.85" x2="501.00" y2="445.85" stroke="#1a1a1a" stroke-width="1.05"/>
<line x1="534.35" y1="441.85" x2="534.35" y2="445.85" stroke="#1a1a1a" stroke-width="1.05"/>
<line x1="567.70" y1="441.85" x2="567.70" y2="445.85" stroke="#1a1a1a" stroke-width="1.05"/>
<line x1="601.05" y1="441.85" x2="601.05" y2="445.85" stroke="#1a1a1a" stroke-width="1.05"/>
<line x1="634.40" y1="441.85" x2="634.40" y2="445.85" stroke="#1a1a1a" stroke-width="1.05"/>
<text x="568.8" y="236" text-anchor="middle" class="ti">Western Asia</text>
<text x="456.5" y="236" class="lt">f</text>
<text x="503.90" y="307.8" class="r2">R<tspan class="sup" dy="-4.9">2</tspan><tspan dy="4.9">=0.75</tspan><tspan class="st" dy="-1.6">**</tspan></text>
<text x="496.30" y="343.8" class="r2">R<tspan class="sup" dy="-4.9">2</tspan><tspan dy="4.9">=0.60</tspan><tspan class="st" dy="-1.6">**</tspan></text>
<text x="487.00" y="385.1" class="r2">R<tspan class="sup" dy="-4.9">2</tspan><tspan dy="4.9">=0.62</tspan><tspan class="st" dy="-1.6">**</tspan></text>
<clipPath id="cpg"><rect x="41.9" y="467.1" width="169.6" height="198.19999999999993"/></clipPath>
<g fill="#a2a2a2" stroke="#1a1a1a" stroke-width="0.8"><rect x="61.07" y="662.10" width="2.04" height="3.20"/><rect x="67.85" y="656.60" width="2.04" height="8.70"/><rect x="71.24" y="659.90" width="2.04" height="5.40"/><rect x="74.63" y="661.00" width="2.04" height="4.30"/><rect x="78.02" y="659.90" width="2.04" height="5.40"/><rect x="81.41" y="658.80" width="2.04" height="6.50"/><rect x="84.80" y="652.70" width="2.04" height="12.60"/><rect x="88.19" y="654.00" width="2.04" height="11.30"/><rect x="91.58" y="659.90" width="2.04" height="5.40"/><rect x="94.97" y="658.80" width="2.04" height="6.50"/><rect x="98.36" y="659.90" width="2.04" height="5.40"/><rect x="101.75" y="655.50" width="2.04" height="9.80"/><rect x="105.14" y="658.80" width="2.04" height="6.50"/><rect x="108.53" y="658.40" width="2.04" height="6.90"/><rect x="111.92" y="657.00" width="2.04" height="8.30"/><rect x="115.31" y="657.70" width="2.04" height="7.60"/><rect x="118.70" y="655.00" width="2.04" height="10.30"/><rect x="122.09" y="656.60" width="2.04" height="8.70"/><rect x="125.48" y="657.00" width="2.04" height="8.30"/><rect x="128.87" y="657.70" width="2.04" height="7.60"/><rect x="132.26" y="658.40" width="2.04" height="6.90"/><rect x="135.65" y="654.80" width="2.04" height="10.50"/><rect x="139.04" y="650.70" width="2.04" height="14.60"/><rect x="142.43" y="643.60" width="2.04" height="21.70"/><rect x="145.82" y="655.30" width="2.04" height="10.00"/><rect x="149.21" y="648.60" width="2.04" height="16.70"/><rect x="152.60" y="654.80" width="2.04" height="10.50"/><rect x="155.99" y="654.60" width="2.04" height="10.70"/><rect x="159.38" y="654.40" width="2.04" height="10.90"/><rect x="162.77" y="654.40" width="2.04" height="10.90"/><rect x="166.16" y="654.40" width="2.04" height="10.90"/><rect x="169.55" y="654.40" width="2.04" height="10.90"/><rect x="172.94" y="654.40" width="2.04" height="10.90"/><rect x="176.33" y="654.40" width="2.04" height="10.90"/><rect x="179.72" y="654.40" width="2.04" height="10.90"/><rect x="183.11" y="654.40" width="2.04" height="10.90"/><rect x="186.50" y="654.40" width="2.04" height="10.90"/><rect x="189.89" y="654.40" width="2.04" height="10.90"/><rect x="193.28" y="654.40" width="2.04" height="10.90"/></g>
<path d="M62.50 643.10V653.10M72.50 615.80V627.80M75.50 614.40V626.40M78.50 626.80V638.80M83.50 607.80V619.80M86.50 602.00V614.00M88.50 610.00V622.00M93.50 610.70V622.70M96.50 603.40V615.40M98.50 607.80V619.80M103.50 623.10V635.10M110.50 620.90V632.90M119.50 618.70V630.70M126.50 599.80V611.80M133.50 589.30V601.30M136.50 600.50V612.50M140.50 577.10V589.10M143.50 577.50V587.50M149.50 541.40V549.40M170.50 561.40V567.40" stroke="#000" stroke-width="1.25" fill="none" clip-path="url(#cpg)"/>
<g fill="#f1c87c" stroke="#000" stroke-width="1.1"><circle cx="62.50" cy="648.10" r="3.45"/><circle cx="72.00" cy="621.80" r="3.45"/><circle cx="75.70" cy="620.40" r="3.45"/><circle cx="78.60" cy="632.80" r="3.45"/><circle cx="83.70" cy="613.80" r="3.45"/><circle cx="86.60" cy="608.00" r="3.45"/><circle cx="88.80" cy="616.00" r="3.45"/><circle cx="93.20" cy="616.70" r="3.45"/><circle cx="96.10" cy="609.40" r="3.45"/><circle cx="99.00" cy="613.80" r="3.45"/><circle cx="103.40" cy="629.10" r="3.45"/><circle cx="110.00" cy="626.90" r="3.45"/><circle cx="119.50" cy="624.70" r="3.45"/><circle cx="126.80" cy="605.80" r="3.45"/><circle cx="133.30" cy="595.30" r="3.45"/><circle cx="137.00" cy="606.50" r="3.45"/><circle cx="140.00" cy="583.10" r="3.45"/><circle cx="143.60" cy="582.50" r="3.45"/><circle cx="149.80" cy="545.40" r="3.45"/><circle cx="170.60" cy="564.40" r="3.45"/></g>
<path d="M150.23 572.20L153.53 577.90H146.93ZM153.62 574.19L156.92 579.89H150.32ZM157.01 571.52L160.31 577.22H153.71ZM160.40 573.75L163.70 579.45H157.10ZM163.79 571.69L167.09 577.39H160.49ZM167.18 573.82L170.48 579.52H163.88ZM170.57 570.89L173.87 576.59H167.27ZM173.96 573.32L177.26 579.02H170.66ZM177.35 570.95L180.65 576.65H174.05ZM180.74 572.83L184.04 578.53H177.44ZM184.13 571.20L187.43 576.90H180.83ZM187.52 572.73L190.82 578.43H184.22ZM190.91 570.41L194.21 576.11H187.61ZM194.30 572.21L197.60 577.91H191.00Z" stroke="#ecc67c" stroke-width="1.4" fill="#fff" stroke-linejoin="miter"/>
<path d="M61.50 631.40V641.40M72.50 621.70V633.70M75.50 605.60V617.60M79.50 610.70V622.70M82.50 601.70V613.70M85.50 620.90V632.90M89.50 620.90V632.90M92.50 591.00V603.00M96.50 593.90V605.90M100.50 577.80V589.80M102.50 622.40V650.40M106.50 604.90V616.90M112.50 603.40V615.40M115.50 623.30V639.30M119.50 622.80V642.80M122.50 609.30V621.30M129.50 604.90V616.90M133.50 583.00V595.00M136.50 638.00V654.00M139.50 620.70V650.70M142.50 616.90V642.90M146.50 603.00V623.00M153.50 616.20V628.20M170.50 617.30V623.30" stroke="#000" stroke-width="1.25" fill="none" clip-path="url(#cpg)"/>
<g fill="#a58cc1" stroke="#000" stroke-width="1.1"><circle cx="61.80" cy="636.40" r="3.45"/><circle cx="72.00" cy="627.70" r="3.45"/><circle cx="75.70" cy="611.60" r="3.45"/><circle cx="79.30" cy="616.70" r="3.45"/><circle cx="83.00" cy="607.70" r="3.45"/><circle cx="85.90" cy="626.90" r="3.45"/><circle cx="89.50" cy="626.90" r="3.45"/><circle cx="92.40" cy="597.00" r="3.45"/><circle cx="96.10" cy="599.90" r="3.45"/><circle cx="100.00" cy="583.80" r="3.45"/><circle cx="102.70" cy="636.40" r="3.45"/><circle cx="106.30" cy="610.90" r="3.45"/><circle cx="112.20" cy="609.40" r="3.45"/><circle cx="115.80" cy="631.30" r="3.45"/><circle cx="119.50" cy="632.80" r="3.45"/><circle cx="122.40" cy="615.30" r="3.45"/><circle cx="129.70" cy="610.90" r="3.45"/><circle cx="133.40" cy="589.00" r="3.45"/><circle cx="137.00" cy="643.00" r="3.45"/><circle cx="139.90" cy="635.70" r="3.45"/><circle cx="142.80" cy="629.90" r="3.45"/><circle cx="146.70" cy="613.00" r="3.45"/><circle cx="153.70" cy="622.20" r="3.45"/><circle cx="170.50" cy="620.30" r="3.45"/></g>
<path d="M150.23 601.25L153.53 606.95H146.93ZM153.62 603.64L156.92 609.34H150.32ZM157.01 601.79L160.31 607.49H153.71ZM160.40 604.11L163.70 609.81H157.10ZM163.79 601.16L167.09 606.86H160.49ZM167.18 602.70L170.48 608.40H163.88ZM170.57 600.19L173.87 605.89H167.27ZM173.96 602.48L177.26 608.18H170.66ZM177.35 599.47L180.65 605.17H174.05ZM180.74 601.89L184.04 607.59H177.44ZM184.13 598.94L187.43 604.64H180.83ZM187.52 601.53L190.82 607.23H184.22ZM190.91 598.86L194.21 604.56H187.61ZM194.30 601.73L197.60 607.43H191.00Z" stroke="#ad96cb" stroke-width="1.4" fill="#fff" stroke-linejoin="miter"/>
<path d="M61.50 625.30V637.30M72.50 593.50V603.50M75.50 575.00V587.00M79.50 592.00V602.00M82.50 561.70V579.70M85.50 578.00V590.00M89.50 585.50V597.50M92.50 537.50V599.50M95.50 521.00V599.00M99.50 521.90V598.90M106.50 560.10V590.10M109.50 588.20V600.20M112.50 558.10V574.10M113.50 552.70V580.70M116.50 608.10V618.10M119.50 598.00V612.00M123.50 549.40V592.40M126.50 546.00V588.00M130.50 557.80V582.80M133.50 521.80V544.80M136.50 594.70V606.70M140.50 560.80V599.80M143.50 547.80V589.80M147.50 521.80V599.80M150.50 480.00V546.00M153.50 585.90V599.90M160.50 552.30V573.30M170.50 533.90V539.90" stroke="#000" stroke-width="1.25" fill="none" clip-path="url(#cpg)"/>
<g fill="#88c38a" stroke="#000" stroke-width="1.1"><circle cx="61.80" cy="631.30" r="3.45"/><circle cx="72.00" cy="598.50" r="3.45"/><circle cx="75.70" cy="581.00" r="3.45"/><circle cx="79.30" cy="597.00" r="3.45"/><circle cx="82.20" cy="570.70" r="3.45"/><circle cx="85.80" cy="584.00" r="3.45"/><circle cx="89.40" cy="591.50" r="3.45"/><circle cx="92.20" cy="561.50" r="3.45"/><circle cx="95.90" cy="558.00" r="3.45"/><circle cx="99.80" cy="543.90" r="3.45"/><circle cx="106.20" cy="580.10" r="3.45"/><circle cx="109.80" cy="594.20" r="3.45"/><circle cx="112.90" cy="566.10" r="3.45"/><circle cx="113.20" cy="566.70" r="3.45"/><circle cx="116.50" cy="613.10" r="3.45"/><circle cx="119.50" cy="605.00" r="3.45"/><circle cx="123.10" cy="571.40" r="3.45"/><circle cx="126.60" cy="565.00" r="3.45"/><circle cx="130.10" cy="570.80" r="3.45"/><circle cx="133.60" cy="532.80" r="3.45"/><circle cx="137.00" cy="600.70" r="3.45"/><circle cx="140.10" cy="570.80" r="3.45"/><circle cx="143.60" cy="563.80" r="3.45"/><circle cx="147.10" cy="556.80" r="3.45"/><circle cx="150.10" cy="507.00" r="3.45"/><circle cx="153.70" cy="592.90" r="3.45"/><circle cx="160.40" cy="567.30" r="3.45"/><circle cx="170.60" cy="536.90" r="3.45"/></g>
<path d="M150.23 522.64L153.53 528.34H146.93ZM153.62 526.72L156.92 532.42H150.32ZM157.01 522.23L160.31 527.93H153.71ZM160.40 526.43L163.70 532.13H157.10ZM163.79 522.38L167.09 528.08H160.49ZM167.18 525.42L170.48 531.12H163.88ZM170.57 520.80L173.87 526.50H167.27ZM173.96 525.15L177.26 530.85H170.66ZM177.35 520.68L180.65 526.38H174.05ZM180.74 523.48L184.04 529.18H177.44ZM184.13 520.31L187.43 526.01H180.83ZM187.52 524.11L190.82 529.81H184.22ZM190.91 520.15L194.21 525.85H187.61ZM194.30 522.48L197.60 528.18H191.00Z" stroke="#84c186" stroke-width="1.4" fill="#fff" stroke-linejoin="miter"/>
<path d="M61.60 606.90L195.60 521.70" fill="none" stroke="#000" stroke-width="2.5"/>
<path d="M62.10 636.20L195.60 567.20" fill="none" stroke="#000" stroke-width="2.5"/>
<path d="M61.60 625.00L195.60 606.90" fill="none" stroke="#000" stroke-width="2.5"/>
<rect x="41.9" y="467.1" width="169.60" height="198.20" fill="none" stroke="#1a1a1a" stroke-width="1.2"/>
<line x1="39.1" y1="652.20" x2="41.9" y2="652.20" stroke="#1a1a1a" stroke-width="1.05"/>
<text x="35.00" y="655.80" text-anchor="end" class="tk">0</text>
<line x1="39.1" y1="590.50" x2="41.9" y2="590.50" stroke="#1a1a1a" stroke-width="1.05"/>
<text x="37.10" y="594.10" text-anchor="end" class="tk">10</text>
<line x1="39.1" y1="528.80" x2="41.9" y2="528.80" stroke="#1a1a1a" stroke-width="1.05"/>
<text x="37.10" y="532.40" text-anchor="end" class="tk">20</text>
<line x1="39.1" y1="467.10" x2="41.9" y2="467.10" stroke="#1a1a1a" stroke-width="1.05"/>
<text x="36.00" y="474.30" text-anchor="end" class="tk">30</text>
<line x1="211.5" y1="665.30" x2="215.7" y2="665.30" stroke="#1a1a1a" stroke-width="1.05"/>
<text x="217.30" y="668.90" class="tk">0</text>
<line x1="211.5" y1="599.23" x2="215.7" y2="599.23" stroke="#1a1a1a" stroke-width="1.05"/>
<text x="217.30" y="602.83" class="tk">10</text>
<line x1="211.5" y1="533.17" x2="215.7" y2="533.17" stroke="#1a1a1a" stroke-width="1.05"/>
<text x="217.30" y="536.77" class="tk">20</text>
<line x1="211.5" y1="467.10" x2="215.7" y2="467.10" stroke="#1a1a1a" stroke-width="1.05"/>
<text x="218.20" y="474.00" class="tk">30</text>
<line x1="58.70" y1="665.3" x2="58.70" y2="669.3" stroke="#1a1a1a" stroke-width="1.05"/>
<line x1="92.60" y1="665.3" x2="92.60" y2="669.3" stroke="#1a1a1a" stroke-width="1.05"/>
<line x1="126.50" y1="665.3" x2="126.50" y2="669.3" stroke="#1a1a1a" stroke-width="1.05"/>
<line x1="160.40" y1="665.3" x2="160.40" y2="669.3" stroke="#1a1a1a" stroke-width="1.05"/>
<line x1="194.30" y1="665.3" x2="194.30" y2="669.3" stroke="#1a1a1a" stroke-width="1.05"/>
<text x="130" y="461" text-anchor="middle" class="ti">South Asia</text>
<text x="1.5" y="459" class="lt">g</text>
<text x="83.30" y="497.1" class="r2">R<tspan class="sup" dy="-4.9">2</tspan><tspan dy="4.9">=0.57</tspan><tspan class="st" dy="-1.6">**</tspan></text>
<text x="46.50" y="521.3" class="r2">R<tspan class="sup" dy="-4.9">2</tspan><tspan dy="4.9">=0.68</tspan><tspan class="st" dy="-1.6">**</tspan></text>
<text x="151.50" y="640.1" class="r2">R<tspan class="sup" dy="-4.9">2</tspan><tspan dy="4.9">=0.16</tspan></text>
<text x="58.4" y="682.90" text-anchor="middle" class="tk">1980</text>
<text x="123" y="682.90" text-anchor="middle" class="tk">2000</text>
<text x="189.9" y="682.90" text-anchor="middle" class="tk">2020</text>
<clipPath id="cph"><rect x="261.7" y="465.3" width="170.40000000000003" height="198.95"/></clipPath>
<g fill="#a2a2a2" stroke="#1a1a1a" stroke-width="0.8"><rect x="315.48" y="645.40" width="2.05" height="18.85"/><rect x="318.88" y="627.00" width="2.05" height="37.25"/><rect x="322.28" y="646.30" width="2.05" height="17.95"/><rect x="325.68" y="642.20" width="2.05" height="22.05"/><rect x="329.08" y="650.30" width="2.05" height="13.95"/><rect x="342.68" y="651.20" width="2.05" height="13.05"/><rect x="346.08" y="631.90" width="2.05" height="32.35"/><rect x="349.48" y="634.00" width="2.05" height="30.25"/><rect x="352.88" y="641.00" width="2.05" height="23.25"/><rect x="356.28" y="644.50" width="2.05" height="19.75"/><rect x="359.68" y="638.40" width="2.05" height="25.85"/><rect x="363.08" y="637.50" width="2.05" height="26.75"/><rect x="366.48" y="639.30" width="2.05" height="24.95"/><rect x="369.88" y="632.60" width="2.05" height="31.65"/><rect x="373.28" y="636.60" width="2.05" height="27.65"/><rect x="376.68" y="641.00" width="2.05" height="23.25"/><rect x="380.08" y="642.20" width="2.05" height="22.05"/><rect x="383.48" y="638.40" width="2.05" height="25.85"/><rect x="386.88" y="641.40" width="2.05" height="22.85"/><rect x="390.28" y="640.70" width="2.05" height="23.55"/><rect x="393.68" y="638.40" width="2.05" height="25.85"/><rect x="397.08" y="637.50" width="2.05" height="26.75"/><rect x="400.48" y="638.40" width="2.05" height="25.85"/><rect x="403.88" y="642.20" width="2.05" height="22.05"/><rect x="407.28" y="641.40" width="2.05" height="22.85"/><rect x="410.68" y="640.10" width="2.05" height="24.15"/><rect x="414.08" y="640.10" width="2.05" height="24.15"/></g>
<path d="M315.50 615.90V624.93M322.50 587.67V596.70M329.50 587.67V596.70M343.50 601.78V610.82M346.50 578.30V589.14M350.50 558.04V567.07M353.50 566.50V575.54M357.50 573.56V582.59M360.50 572.15V581.18M364.50 569.33V578.36M367.50 583.44V592.47M370.50 575.87V583.10M374.50 573.05V580.28M378.50 571.64V578.87M381.50 573.05V580.28M387.50 570.23V577.46M401.50 555.21V564.25M404.50 575.87V583.10M319.50 569.61V662.75M325.50 578.08V621.82" stroke="#000" stroke-width="1.25" fill="none" clip-path="url(#cph)"/>
<g fill="#f1c87c" stroke="#000" stroke-width="1.1"><circle cx="315.22" cy="620.41" r="3.45"/><circle cx="322.27" cy="592.19" r="3.45"/><circle cx="329.89" cy="592.19" r="3.45"/><circle cx="343.44" cy="606.30" r="3.45"/><circle cx="346.26" cy="583.72" r="3.45"/><circle cx="350.50" cy="562.55" r="3.45"/><circle cx="353.32" cy="571.02" r="3.45"/><circle cx="357.55" cy="578.08" r="3.45"/><circle cx="360.38" cy="576.66" r="3.45"/><circle cx="364.04" cy="573.84" r="3.45"/><circle cx="367.43" cy="587.95" r="3.45"/><circle cx="370.82" cy="579.49" r="3.45"/><circle cx="374.49" cy="576.66" r="3.45"/><circle cx="378.16" cy="575.25" r="3.45"/><circle cx="381.54" cy="576.66" r="3.45"/><circle cx="387.19" cy="573.84" r="3.45"/><circle cx="401.30" cy="559.73" r="3.45"/><circle cx="404.12" cy="579.49" r="3.45"/></g>
<path d="M374.30 574.18L377.60 579.88H371.00ZM377.70 577.41L381.00 583.11H374.40ZM381.10 573.71L384.40 579.41H377.80ZM384.50 576.45L387.80 582.15H381.20ZM387.90 572.53L391.20 578.23H384.60ZM391.30 574.85L394.60 580.55H388.00ZM394.70 571.50L398.00 577.20H391.40ZM398.10 573.80L401.40 579.50H394.80ZM401.50 570.25L404.80 575.95H398.20ZM404.90 572.56L408.20 578.26H401.60ZM408.30 568.33L411.60 574.03H405.00ZM411.70 571.47L415.00 577.17H408.40ZM415.10 567.54L418.40 573.24H411.80Z" stroke="#ecc67c" stroke-width="1.4" fill="#fff" stroke-linejoin="miter"/>
<path d="M315.50 622.39V626.90M318.50 622.39V626.90M326.50 595.58V600.09M329.50 580.05V584.57M346.50 611.10V615.62M350.50 596.99V601.50M353.50 589.93V594.45M357.50 583.72V588.24M361.50 597.55V600.94M365.50 598.96V602.35M368.50 603.20V606.58M373.50 604.61V607.99M377.50 601.78V605.17M381.50 598.96V602.35M387.50 590.50V593.88M399.50 587.67V591.06M404.50 590.50V593.88M409.50 590.50V593.88" stroke="#000" stroke-width="1.25" fill="none" clip-path="url(#cph)"/>
<g fill="#a58cc1" stroke="#000" stroke-width="1.1"><circle cx="315.22" cy="624.65" r="3.45"/><circle cx="318.88" cy="624.65" r="3.45"/><circle cx="326.51" cy="597.83" r="3.45"/><circle cx="329.89" cy="582.31" r="3.45"/><circle cx="346.26" cy="613.36" r="3.45"/><circle cx="350.50" cy="599.24" r="3.45"/><circle cx="353.88" cy="592.19" r="3.45"/><circle cx="357.55" cy="585.98" r="3.45"/><circle cx="361.79" cy="599.24" r="3.45"/><circle cx="365.17" cy="600.66" r="3.45"/><circle cx="368.84" cy="604.89" r="3.45"/><circle cx="373.08" cy="606.30" r="3.45"/><circle cx="377.31" cy="603.48" r="3.45"/><circle cx="381.54" cy="600.66" r="3.45"/><circle cx="387.19" cy="592.19" r="3.45"/><circle cx="399.89" cy="589.37" r="3.45"/><circle cx="404.12" cy="592.19" r="3.45"/><circle cx="409.77" cy="592.19" r="3.45"/></g>
<path d="M374.30 592.75L377.60 598.45H371.00ZM377.70 595.41L381.00 601.11H374.40ZM381.10 591.19L384.40 596.89H377.80ZM384.50 593.56L387.80 599.26H381.20ZM387.90 590.15L391.20 595.85H384.60ZM391.30 593.06L394.60 598.76H388.00ZM394.70 590.15L398.00 595.85H391.40ZM398.10 592.44L401.40 598.14H394.80ZM401.50 588.89L404.80 594.59H398.20ZM404.90 590.67L408.20 596.37H401.60ZM408.30 587.69L411.60 593.39H405.00ZM411.70 590.01L415.00 595.71H408.40ZM415.10 587.05L418.40 592.75H411.80Z" stroke="#ad96cb" stroke-width="1.4" fill="#fff" stroke-linejoin="miter"/>
<path d="M315.50 583.30V620.84M318.50 574.27V590.35M322.50 542.23V552.96M326.50 534.27V542.85M329.50 526.37V534.95M342.50 551.55V562.27M346.50 548.38V556.96M350.50 512.37V525.24M353.50 514.51V523.09M356.50 515.08V523.66M361.50 528.63V537.21M364.50 526.37V534.95M366.50 547.20V553.63M370.50 543.81V550.25M373.50 540.42V546.86M377.50 540.42V546.86M380.50 534.78V541.21M384.50 534.78V541.21M388.50 525.47V531.90M392.50 525.47V531.90M401.50 499.89V510.62M404.50 524.05V530.49" stroke="#000" stroke-width="1.25" fill="none" clip-path="url(#cph)"/>
<g fill="#88c38a" stroke="#000" stroke-width="1.1"><circle cx="315.22" cy="602.07" r="3.45"/><circle cx="318.88" cy="582.31" r="3.45"/><circle cx="322.84" cy="547.59" r="3.45"/><circle cx="326.51" cy="538.56" r="3.45"/><circle cx="329.89" cy="530.66" r="3.45"/><circle cx="342.59" cy="556.91" r="3.45"/><circle cx="346.26" cy="552.67" r="3.45"/><circle cx="350.50" cy="518.80" r="3.45"/><circle cx="353.88" cy="518.80" r="3.45"/><circle cx="356.99" cy="519.37" r="3.45"/><circle cx="361.22" cy="532.92" r="3.45"/><circle cx="364.04" cy="530.66" r="3.45"/><circle cx="366.87" cy="550.42" r="3.45"/><circle cx="370.25" cy="547.03" r="3.45"/><circle cx="373.92" cy="543.64" r="3.45"/><circle cx="377.31" cy="543.64" r="3.45"/><circle cx="380.98" cy="538.00" r="3.45"/><circle cx="384.37" cy="538.00" r="3.45"/><circle cx="388.60" cy="528.68" r="3.45"/><circle cx="392.83" cy="528.68" r="3.45"/><circle cx="401.30" cy="505.26" r="3.45"/><circle cx="404.12" cy="527.27" r="3.45"/></g>
<path d="M374.30 519.66L377.60 525.36H371.00ZM377.70 525.56L381.00 531.26H374.40ZM381.10 518.06L384.40 523.76H377.80ZM384.50 522.08L387.80 527.78H381.20ZM387.90 517.02L391.20 522.72H384.60ZM391.30 521.12L394.60 526.82H388.00ZM394.70 515.49L398.00 521.19H391.40ZM398.10 518.84L401.40 524.54H394.80ZM401.50 514.53L404.80 520.23H398.20ZM404.90 517.83L408.20 523.53H401.60ZM408.30 512.80L411.60 518.50H405.00ZM411.70 516.19L415.00 521.89H408.40ZM415.10 511.55L418.40 517.25H411.80Z" stroke="#84c186" stroke-width="1.4" fill="#fff" stroke-linejoin="miter"/>
<path d="M315.20 558.90L415.40 519.40" fill="none" stroke="#000" stroke-width="2.5"/>
<path d="M315.20 596.40L415.40 569.00" fill="none" stroke="#000" stroke-width="2.5"/>
<path d="M315.20 606.90L415.40 594.40" fill="none" stroke="#000" stroke-width="2.5"/>
<rect x="261.7" y="465.3" width="170.40" height="198.95" fill="none" stroke="#1a1a1a" stroke-width="1.2"/>
<line x1="258.9" y1="644.00" x2="261.7" y2="644.00" stroke="#1a1a1a" stroke-width="1.05"/>
<text x="254.80" y="647.60" text-anchor="end" class="tk">0</text>
<line x1="258.9" y1="584.60" x2="261.7" y2="584.60" stroke="#1a1a1a" stroke-width="1.05"/>
<text x="254.80" y="588.20" text-anchor="end" class="tk">6</text>
<line x1="258.9" y1="525.20" x2="261.7" y2="525.20" stroke="#1a1a1a" stroke-width="1.05"/>
<text x="256.90" y="528.80" text-anchor="end" class="tk">12</text>
<line x1="258.9" y1="465.80" x2="261.7" y2="465.80" stroke="#1a1a1a" stroke-width="1.05"/>
<text x="257.80" y="474.00" text-anchor="end" class="tk">18</text>
<line x1="432.1" y1="664.25" x2="436.3" y2="664.25" stroke="#1a1a1a" stroke-width="1.05"/>
<text x="440.80" y="667.85" class="tk">0</text>
<line x1="432.1" y1="597.93" x2="436.3" y2="597.93" stroke="#1a1a1a" stroke-width="1.05"/>
<text x="440.80" y="601.53" class="tk">4</text>
<line x1="432.1" y1="531.62" x2="436.3" y2="531.62" stroke="#1a1a1a" stroke-width="1.05"/>
<text x="440.80" y="535.22" class="tk">8</text>
<line x1="432.1" y1="465.30" x2="436.3" y2="465.30" stroke="#1a1a1a" stroke-width="1.05"/>
<text x="438.40" y="472.50" class="tk">12</text>
<line x1="279.10" y1="664.25" x2="279.10" y2="668.25" stroke="#1a1a1a" stroke-width="1.05"/>
<line x1="313.10" y1="664.25" x2="313.10" y2="668.25" stroke="#1a1a1a" stroke-width="1.05"/>
<line x1="347.10" y1="664.25" x2="347.10" y2="668.25" stroke="#1a1a1a" stroke-width="1.05"/>
<line x1="381.10" y1="664.25" x2="381.10" y2="668.25" stroke="#1a1a1a" stroke-width="1.05"/>
<line x1="415.10" y1="664.25" x2="415.10" y2="668.25" stroke="#1a1a1a" stroke-width="1.05"/>
<text x="348" y="461" text-anchor="middle" class="ti">Southeast Asia</text>
<text x="228.5" y="459" class="lt">h</text>
<text x="331.10" y="511.6" class="r2">R<tspan class="sup" dy="-4.9">2</tspan><tspan dy="4.9">=0.42</tspan><tspan class="st" dy="-1.6">**</tspan></text>
<text x="261.80" y="573.6" class="r2">R<tspan class="sup" dy="-4.9">2</tspan><tspan dy="4.9">=0.48</tspan><tspan class="st" dy="-1.6">**</tspan></text>
<text x="261.80" y="617.8" class="r2">R<tspan class="sup" dy="-4.9">2</tspan><tspan dy="4.9">=0.17</tspan></text>
<text x="274.4" y="681.85" text-anchor="middle" class="tk">1980</text>
<text x="342" y="681.85" text-anchor="middle" class="tk">2000</text>
<text x="411" y="681.85" text-anchor="middle" class="tk">2020</text>
<clipPath id="cpi"><rect x="484.0" y="467.1" width="167.0" height="195.44999999999993"/></clipPath>
<g fill="#a2a2a2" stroke="#1a1a1a" stroke-width="0.8"><rect x="499.10" y="651.00" width="2.01" height="11.55"/><rect x="529.34" y="646.80" width="2.01" height="15.75"/><rect x="536.06" y="653.80" width="2.01" height="8.75"/><rect x="559.58" y="650.00" width="2.01" height="12.55"/><rect x="562.94" y="646.00" width="2.01" height="16.55"/><rect x="566.30" y="650.50" width="2.01" height="12.05"/><rect x="569.66" y="638.40" width="2.01" height="24.15"/><rect x="573.01" y="646.00" width="2.01" height="16.55"/><rect x="593.18" y="644.60" width="2.01" height="17.95"/><rect x="596.53" y="644.60" width="2.01" height="17.95"/><rect x="599.89" y="644.60" width="2.01" height="17.95"/><rect x="603.25" y="644.60" width="2.01" height="17.95"/><rect x="606.62" y="644.60" width="2.01" height="17.95"/><rect x="609.98" y="644.60" width="2.01" height="17.95"/><rect x="613.34" y="644.60" width="2.01" height="17.95"/><rect x="616.70" y="644.60" width="2.01" height="17.95"/><rect x="620.06" y="644.60" width="2.01" height="17.95"/><rect x="623.42" y="644.60" width="2.01" height="17.95"/><rect x="626.77" y="644.60" width="2.01" height="17.95"/><rect x="630.13" y="644.60" width="2.01" height="17.95"/><rect x="633.50" y="644.60" width="2.01" height="17.95"/></g>
<path d="M530.50 605.59V617.65M544.50 588.60V606.70M560.50 599.61V609.66M570.50 602.40V612.46M573.50 579.05V591.12M580.50 582.01V597.09M587.50 589.55V604.64M601.50 498.66V526.82" stroke="#000" stroke-width="1.25" fill="none" clip-path="url(#cpi)"/>
<g fill="#88c38a" stroke="#000" stroke-width="1.1"><circle cx="500.20" cy="621.68" r="3.45"/><circle cx="530.93" cy="611.62" r="3.45"/><circle cx="537.07" cy="629.22" r="3.45"/><circle cx="544.06" cy="597.65" r="3.45"/><circle cx="560.82" cy="604.64" r="3.45"/><circle cx="567.24" cy="619.44" r="3.45"/><circle cx="570.59" cy="607.43" r="3.45"/><circle cx="573.94" cy="585.08" r="3.45"/><circle cx="580.93" cy="589.55" r="3.45"/><circle cx="587.35" cy="597.09" r="3.45"/><circle cx="601.32" cy="512.74" r="3.45"/><circle cx="611.09" cy="571.12" r="3.45"/></g>
<path d="M594.18 531.76V549.76M597.54 537.69V555.69M600.90 531.55V549.55M604.26 537.05V555.05M607.62 530.16V548.16M610.98 535.75V553.75M614.34 526.21V544.21M617.70 531.71V549.71M621.06 524.62V542.62M624.42 531.26V549.26M627.78 522.93V540.93M631.14 530.78V548.78M634.50 520.04V538.04" stroke="#84c186" stroke-width="1.1" fill="none"/>
<path d="M594.18 537.76L597.48 543.46H590.88ZM597.54 543.69L600.84 549.39H594.24ZM600.90 537.55L604.20 543.25H597.60ZM604.26 543.05L607.56 548.75H600.96ZM607.62 536.16L610.92 541.86H604.32ZM610.98 541.75L614.28 547.45H607.68ZM614.34 532.21L617.64 537.91H611.04ZM617.70 537.71L621.00 543.41H614.40ZM621.06 530.62L624.36 536.32H617.76ZM624.42 537.26L627.72 542.96H621.12ZM627.78 528.93L631.08 534.63H624.48ZM631.14 536.78L634.44 542.48H627.84ZM634.50 526.04L637.80 531.74H631.20Z" stroke="#84c186" stroke-width="1.4" fill="#fff" stroke-linejoin="miter"/>
<path d="M544.50 599.61V613.02M573.50 599.33V617.21M580.50 582.29V604.64M587.50 597.37V610.78M601.50 560.17V570.89" stroke="#000" stroke-width="1.25" fill="none" clip-path="url(#cpi)"/>
<g fill="#f1c87c" stroke="#000" stroke-width="1.1"><circle cx="500.20" cy="629.78" r="3.45"/><circle cx="530.93" cy="623.07" r="3.45"/><circle cx="544.06" cy="606.31" r="3.45"/><circle cx="573.94" cy="608.27" r="3.45"/><circle cx="580.93" cy="593.46" r="3.45"/><circle cx="587.35" cy="604.08" r="3.45"/><circle cx="601.32" cy="565.53" r="3.45"/><circle cx="611.09" cy="592.07" r="3.45"/></g>
<path d="M594.18 573.03V583.03M597.54 576.64V586.64M600.90 571.73V581.73M604.26 575.04V585.04M607.62 572.24V582.24M610.98 575.15V585.15M614.34 571.00V581.00M617.70 573.64V583.64M621.06 569.44V579.44M624.42 572.53V582.53M627.78 568.47V578.47M631.14 572.15V582.15M634.50 568.89V578.89" stroke="#ecc67c" stroke-width="1.1" fill="none"/>
<path d="M594.18 575.03L597.48 580.73H590.88ZM597.54 578.64L600.84 584.34H594.24ZM600.90 573.73L604.20 579.43H597.60ZM604.26 577.04L607.56 582.74H600.96ZM607.62 574.24L610.92 579.94H604.32ZM610.98 577.15L614.28 582.85H607.68ZM614.34 573.00L617.64 578.70H611.04ZM617.70 575.64L621.00 581.34H614.40ZM621.06 571.44L624.36 577.14H617.76ZM624.42 574.53L627.72 580.23H621.12ZM627.78 570.47L631.08 576.17H624.48ZM631.14 574.15L634.44 579.85H627.84ZM634.50 570.89L637.80 576.59H631.20Z" stroke="#ecc67c" stroke-width="1.4" fill="#fff" stroke-linejoin="miter"/>
<g fill="#a58cc1" stroke="#000" stroke-width="1.1"><circle cx="500.20" cy="630.61" r="3.45"/><circle cx="530.93" cy="627.82" r="3.45"/><circle cx="537.07" cy="634.25" r="3.45"/><circle cx="544.06" cy="630.61" r="3.45"/><circle cx="560.82" cy="622.23" r="3.45"/><circle cx="563.61" cy="630.61" r="3.45"/><circle cx="567.24" cy="626.42" r="3.45"/><circle cx="570.59" cy="629.78" r="3.45"/><circle cx="573.94" cy="618.04" r="3.45"/><circle cx="580.93" cy="636.20" r="3.45"/><circle cx="587.35" cy="634.80" r="3.45"/><circle cx="611.09" cy="618.04" r="3.45"/></g>
<path d="M594.18 599.16V605.16M597.54 600.53V606.53M600.90 597.97V603.97M604.26 599.91V605.91M607.62 597.80V603.80M610.98 599.55V605.55M614.34 596.83V602.83M617.70 598.62V604.62M621.06 596.19V602.19M624.42 598.63V604.63M627.78 595.81V601.81M631.14 597.26V603.26M634.50 595.25V601.25" stroke="#ad96cb" stroke-width="1.1" fill="none"/>
<path d="M594.18 599.16L597.48 604.86H590.88ZM597.54 600.53L600.84 606.23H594.24ZM600.90 597.97L604.20 603.67H597.60ZM604.26 599.91L607.56 605.61H600.96ZM607.62 597.80L610.92 603.50H604.32ZM610.98 599.55L614.28 605.25H607.68ZM614.34 596.83L617.64 602.53H611.04ZM617.70 598.62L621.00 604.32H614.40ZM621.06 596.19L624.36 601.89H617.76ZM624.42 598.63L627.72 604.33H621.12ZM627.78 595.81L631.08 601.51H624.48ZM631.14 597.26L634.44 602.96H627.84ZM634.50 595.25L637.80 600.95H631.20Z" stroke="#ad96cb" stroke-width="1.4" fill="#fff" stroke-linejoin="miter"/>
<path d="M500.20 633.41C501.93 632.59 507.11 630.19 510.56 628.47C514.01 626.76 517.46 624.97 520.91 623.10C524.37 621.23 527.82 619.29 531.27 617.25C534.72 615.21 538.18 613.09 541.63 610.88C545.08 608.66 548.53 606.35 551.98 603.93C555.44 601.52 558.89 599.01 562.34 596.38C565.79 593.74 569.25 591.01 572.70 588.14C576.15 585.28 579.60 582.30 583.05 579.18C586.51 576.05 589.96 572.81 593.41 569.41C596.86 566.01 600.32 562.48 603.77 558.77C607.22 555.07 610.67 551.22 614.12 547.19C617.58 543.16 621.03 538.97 624.48 534.58C627.93 530.18 633.11 523.13 634.84 520.84" fill="none" stroke="#000" stroke-width="2.5"/>
<path d="M500.20 634.80C501.93 634.37 507.11 633.13 510.56 632.22C514.01 631.31 517.46 630.36 520.91 629.35C524.37 628.33 527.82 627.28 531.27 626.15C534.72 625.03 538.18 623.85 541.63 622.60C545.08 621.35 548.53 620.05 551.98 618.66C555.44 617.27 558.89 615.82 562.34 614.27C565.79 612.73 569.25 611.11 572.70 609.40C576.15 607.68 579.60 605.89 583.05 603.98C586.51 602.07 589.96 600.08 593.41 597.96C596.86 595.84 600.32 593.62 603.77 591.27C607.22 588.91 610.67 586.45 614.12 583.83C617.58 581.21 621.03 578.47 624.48 575.56C627.93 572.65 633.11 567.90 634.84 566.37" fill="none" stroke="#000" stroke-width="2.5"/>
<path d="M500.20 636.20C501.93 635.96 507.11 635.25 510.56 634.74C514.01 634.22 517.46 633.67 520.91 633.09C524.37 632.51 527.82 631.90 531.27 631.24C534.72 630.59 538.18 629.90 541.63 629.17C545.08 628.43 548.53 627.66 551.98 626.84C555.44 626.01 558.89 625.15 562.34 624.22C565.79 623.29 569.25 622.32 572.70 621.28C576.15 620.24 579.60 619.15 583.05 617.98C586.51 616.81 589.96 615.59 593.41 614.28C596.86 612.96 600.32 611.59 603.77 610.11C607.22 608.64 610.67 607.10 614.12 605.44C617.58 603.79 621.03 602.05 624.48 600.19C627.93 598.34 633.11 595.28 634.84 594.30" fill="none" stroke="#000" stroke-width="2.5"/>
<rect x="484.0" y="467.1" width="167.00" height="195.45" fill="none" stroke="#1a1a1a" stroke-width="1.2"/>
<line x1="481.2" y1="639.20" x2="484.0" y2="639.20" stroke="#1a1a1a" stroke-width="1.05"/>
<text x="477.10" y="642.80" text-anchor="end" class="tk">0</text>
<line x1="481.2" y1="581.60" x2="484.0" y2="581.60" stroke="#1a1a1a" stroke-width="1.05"/>
<text x="477.10" y="585.20" text-anchor="end" class="tk">5</text>
<line x1="481.2" y1="524.00" x2="484.0" y2="524.00" stroke="#1a1a1a" stroke-width="1.05"/>
<text x="479.20" y="527.60" text-anchor="end" class="tk">10</text>
<line x1="481.2" y1="466.40" x2="484.0" y2="466.40" stroke="#1a1a1a" stroke-width="1.05"/>
<text x="479.90" y="472.50" text-anchor="end" class="tk">15</text>
<line x1="651.0" y1="662.55" x2="655.2" y2="662.55" stroke="#1a1a1a" stroke-width="1.05"/>
<text x="656.80" y="666.15" class="tk">0</text>
<line x1="651.0" y1="597.40" x2="655.2" y2="597.40" stroke="#1a1a1a" stroke-width="1.05"/>
<text x="656.80" y="601.00" class="tk">6</text>
<line x1="651.0" y1="532.25" x2="655.2" y2="532.25" stroke="#1a1a1a" stroke-width="1.05"/>
<text x="656.80" y="535.85" class="tk">12</text>
<line x1="651.0" y1="467.10" x2="655.2" y2="467.10" stroke="#1a1a1a" stroke-width="1.05"/>
<text x="657.40" y="470.10" class="tk">18</text>
<line x1="500.10" y1="662.55" x2="500.10" y2="666.55" stroke="#1a1a1a" stroke-width="1.05"/>
<line x1="533.70" y1="662.55" x2="533.70" y2="666.55" stroke="#1a1a1a" stroke-width="1.05"/>
<line x1="567.30" y1="662.55" x2="567.30" y2="666.55" stroke="#1a1a1a" stroke-width="1.05"/>
<line x1="600.90" y1="662.55" x2="600.90" y2="666.55" stroke="#1a1a1a" stroke-width="1.05"/>
<line x1="634.50" y1="662.55" x2="634.50" y2="666.55" stroke="#1a1a1a" stroke-width="1.05"/>
<text x="568.8" y="461" text-anchor="middle" class="ti">South America</text>
<text x="456.5" y="459" class="lt">i</text>
<text x="498.50" y="535.3" class="r2">R<tspan class="sup" dy="-4.9">2</tspan><tspan dy="4.9">=0.77</tspan><tspan class="st" dy="-1.6">**</tspan></text>
<text x="499.60" y="557.3" class="r2">R<tspan class="sup" dy="-4.9">2</tspan><tspan dy="4.9">=0.77</tspan><tspan class="st" dy="-1.6">**</tspan></text>
<text x="497.30" y="581.5" class="r2">R<tspan class="sup" dy="-4.9">2</tspan><tspan dy="4.9">=0.64</tspan><tspan class="st" dy="-1.6">**</tspan></text>
<text x="495.9" y="680.15" text-anchor="middle" class="tk">1980</text>
<text x="563" y="680.15" text-anchor="middle" class="tk">2000</text>
<text x="632" y="680.15" text-anchor="middle" class="tk">2020</text>
<text transform="translate(10.6 119.8) rotate(-90)" text-anchor="middle" class="yl">N deposition (kg N ha<tspan class="ysup" dy="-4.5">-1</tspan><tspan dy="4.5"> yr</tspan><tspan class="ysup" dy="-4.5">-1</tspan><tspan dy="4.5">)</tspan></text>
<text transform="translate(10.6 353.0) rotate(-90)" text-anchor="middle" class="yl">N deposition (kg N ha<tspan class="ysup" dy="-4.5">-1</tspan><tspan dy="4.5"> yr</tspan><tspan class="ysup" dy="-4.5">-1</tspan><tspan dy="4.5">)</tspan></text>
<text transform="translate(10.6 566.0) rotate(-90)" text-anchor="middle" class="yl">N deposition (kg N ha<tspan class="ysup" dy="-4.5">-1</tspan><tspan dy="4.5"> yr</tspan><tspan class="ysup" dy="-4.5">-1</tspan><tspan dy="4.5">)</tspan></text>
<text transform="translate(674.6 116.3) rotate(90)" text-anchor="middle" class="yr">Ratio of NHx to NOy</text>
<text transform="translate(674.6 341.5) rotate(90)" text-anchor="middle" class="yr">Ratio of NHx to NOy</text>
<text transform="translate(674.6 567.7) rotate(90)" text-anchor="middle" class="yr">Ratio of NHx to NOy</text>
<text x="122.4" y="697" text-anchor="middle" class="yr2">Year</text>
<text x="345.4" y="697" text-anchor="middle" class="yr2">Year</text>
<text x="560.0" y="697" text-anchor="middle" class="yr2">Year</text>
<circle cx="52.6" cy="25.9" r="4.4" fill="#88c38a" stroke="#111" stroke-width="1.3"/>
<circle cx="93.0" cy="25.9" r="4.4" fill="#f1c87c" stroke="#111" stroke-width="1.3"/>
<circle cx="131.0" cy="25.9" r="4.4" fill="#a58cc1" stroke="#111" stroke-width="1.3"/>
<rect x="165.4" y="21.6" width="3.2" height="8.6" fill="#9a9a9a" stroke="#2a1a1a" stroke-width="1.1"/>
<circle cx="52.6" cy="40.8" r="4.4" fill="#fff" stroke="#111" stroke-width="1.4"/>
<path d="M52.8 51.4L57.6 58.1H48Z" fill="none" stroke="#222" stroke-width="1.3"/>
<text x="61" y="30.1" class="lg">Total</text>
<text x="97.8" y="30.1" class="lg">NHx</text>
<text x="137.3" y="30.1" class="lg">NOy</text>
<text x="171.6" y="30.1" class="lg">Ratio</text>
<text x="61" y="45.2" class="lg">Observations</text>
<text x="61" y="59.4" class="lg">Random forest models</text>
</svg></body></html>
